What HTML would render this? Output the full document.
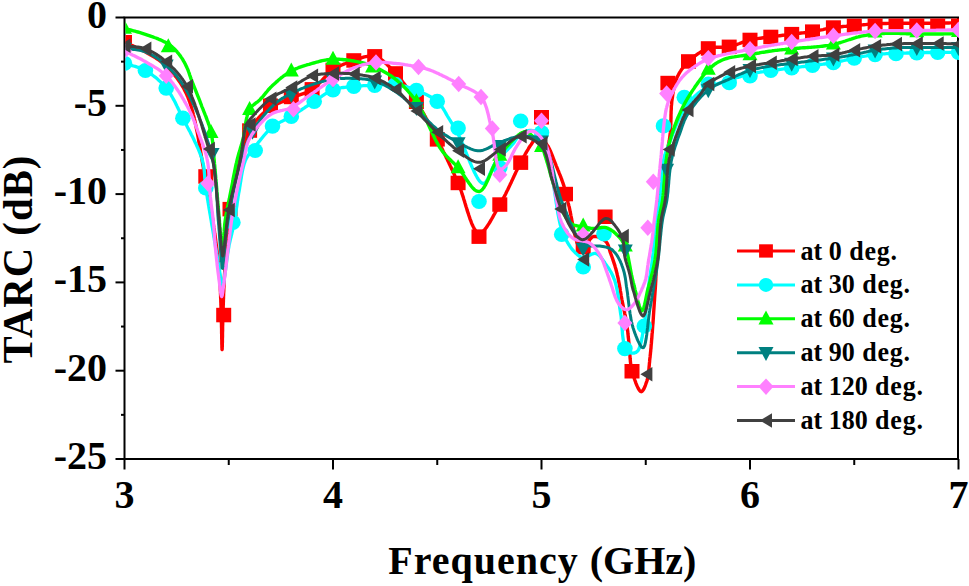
<!DOCTYPE html>
<html><head><meta charset="utf-8"><style>
html,body{margin:0;padding:0;background:#fff;}
body{width:969px;height:586px;overflow:hidden;}
svg{display:block;}
.tk{font-family:"Liberation Serif",serif;font-weight:bold;font-size:40px;fill:#000;}
.ttl{font-family:"Liberation Serif",serif;font-weight:bold;font-size:40px;fill:#000;}
.lg{font-family:"Liberation Serif",serif;font-weight:bold;font-size:26px;fill:#000;}
</style></head><body>
<svg width="969" height="586" viewBox="0 0 969 586">
<defs><clipPath id="pc"><rect x="125.5" y="18.5" width="833.5" height="440"/></clipPath></defs>
<rect x="124.5" y="17.5" width="833.5" height="441.5" fill="none" stroke="#000" stroke-width="2"/>
<line x1="115.5" y1="17.50" x2="124.5" y2="17.50" stroke="#000" stroke-width="2"/>
<line x1="121.0" y1="61.65" x2="124.5" y2="61.65" stroke="#000" stroke-width="2"/>
<line x1="115.5" y1="105.80" x2="124.5" y2="105.80" stroke="#000" stroke-width="2"/>
<line x1="121.0" y1="149.95" x2="124.5" y2="149.95" stroke="#000" stroke-width="2"/>
<line x1="115.5" y1="194.10" x2="124.5" y2="194.10" stroke="#000" stroke-width="2"/>
<line x1="121.0" y1="238.25" x2="124.5" y2="238.25" stroke="#000" stroke-width="2"/>
<line x1="115.5" y1="282.40" x2="124.5" y2="282.40" stroke="#000" stroke-width="2"/>
<line x1="121.0" y1="326.55" x2="124.5" y2="326.55" stroke="#000" stroke-width="2"/>
<line x1="115.5" y1="370.70" x2="124.5" y2="370.70" stroke="#000" stroke-width="2"/>
<line x1="121.0" y1="414.85" x2="124.5" y2="414.85" stroke="#000" stroke-width="2"/>
<line x1="115.5" y1="459.00" x2="124.5" y2="459.00" stroke="#000" stroke-width="2"/>
<line x1="124.50" y1="459.0" x2="124.50" y2="469.5" stroke="#000" stroke-width="2"/>
<line x1="228.75" y1="459.0" x2="228.75" y2="465.0" stroke="#000" stroke-width="2"/>
<line x1="333.00" y1="459.0" x2="333.00" y2="469.5" stroke="#000" stroke-width="2"/>
<line x1="437.25" y1="459.0" x2="437.25" y2="465.0" stroke="#000" stroke-width="2"/>
<line x1="541.50" y1="459.0" x2="541.50" y2="469.5" stroke="#000" stroke-width="2"/>
<line x1="645.75" y1="459.0" x2="645.75" y2="465.0" stroke="#000" stroke-width="2"/>
<line x1="750.00" y1="459.0" x2="750.00" y2="469.5" stroke="#000" stroke-width="2"/>
<line x1="854.25" y1="459.0" x2="854.25" y2="465.0" stroke="#000" stroke-width="2"/>
<line x1="958.50" y1="459.0" x2="958.50" y2="469.5" stroke="#000" stroke-width="2"/>
<g clip-path="url(#pc)">
<polyline points="124.5,42.2 125.9,42.9 127.3,43.5 128.7,44.1 130.1,44.7 131.5,45.3 132.9,45.9 134.3,46.5 135.7,47.2 137.1,47.8 138.5,48.4 139.9,49.1 141.2,49.8 142.6,50.5 144.0,51.2 145.4,51.9 146.7,52.7 148.0,53.4 149.4,54.2 150.7,55.0 152.0,55.7 153.4,56.5 154.7,57.3 156.0,58.2 157.3,59.0 158.6,59.9 159.9,60.8 161.2,61.8 162.5,62.8 163.7,63.8 165.0,64.9 166.2,66.1 167.2,67.0 168.2,68.0 169.2,69.1 170.2,70.1 171.2,71.2 172.1,72.2 173.1,73.3 174.1,74.5 175.0,75.6 176.0,76.8 176.9,78.0 177.8,79.2 178.7,80.5 179.6,81.8 180.5,83.1 181.4,84.5 182.2,85.9 183.1,87.3 183.9,88.8 184.7,90.4 185.5,91.9 186.3,93.5 187.0,95.2 187.5,96.3 188.0,97.4 188.4,98.6 188.9,99.8 189.3,101.0 189.8,102.2 190.2,103.5 190.6,104.8 191.0,106.1 191.4,107.5 191.8,108.9 192.2,110.3 192.6,111.7 193.0,113.1 193.3,114.6 193.7,116.1 194.1,117.6 194.4,119.1 194.8,120.6 195.1,122.2 195.4,123.7 195.8,125.3 196.1,126.9 196.4,128.5 196.7,130.1 197.1,131.7 197.4,133.3 197.7,134.9 198.0,136.5 198.3,138.2 198.6,139.8 198.8,141.4 199.1,143.0 199.4,144.7 199.7,146.3 200.0,147.9 200.3,149.5 200.5,151.1 200.8,152.7 201.1,154.3 201.3,155.9 201.6,157.5 201.9,159.0 202.1,160.6 202.4,162.1 202.6,163.6 202.9,165.1 203.2,166.6 203.4,168.1 203.7,169.5 203.9,171.0 204.2,172.4 204.5,173.7 204.7,175.1 205.0,176.4 205.3,178.1 205.6,179.8 205.9,181.4 206.3,183.0 206.6,184.6 206.9,186.2 207.2,187.8 207.5,189.4 207.8,191.0 208.0,192.5 208.3,194.1 208.6,195.6 208.9,197.1 209.2,198.6 209.4,200.2 209.7,201.7 210.0,203.2 210.2,204.7 210.5,206.1 210.7,207.6 211.0,209.1 211.2,210.6 211.5,212.0 211.7,213.5 211.9,214.9 212.2,216.4 212.4,217.8 212.6,219.3 212.9,220.7 213.1,222.2 213.3,223.6 213.5,225.1 213.7,226.5 213.9,228.0 214.2,229.4 214.4,231.0 214.6,232.6 214.8,234.2 215.1,235.7 215.3,237.3 215.5,238.8 215.7,240.4 215.9,241.9 216.1,243.4 216.3,245.0 216.5,246.5 216.7,248.0 216.9,249.5 217.1,251.1 217.2,252.6 217.4,254.1 217.6,255.6 217.8,257.1 217.9,258.6 218.1,260.1 218.3,261.6 218.4,263.1 218.6,264.6 218.7,266.1 218.8,267.6 219.0,269.1 219.1,270.6 219.2,272.1 219.4,273.6 219.5,275.1 219.6,276.7 219.7,278.3 219.8,279.8 219.9,281.4 220.0,282.9 220.1,284.5 220.2,286.1 220.3,287.6 220.3,289.2 220.4,290.8 220.5,292.3 220.5,293.9 220.6,295.4 220.6,297.0 220.7,298.5 220.8,300.0 220.8,301.6 220.9,303.1 220.9,304.6 221.0,306.1 221.0,307.6 221.0,309.1 221.1,310.6 221.1,312.1 221.2,313.6 221.2,315.1 221.3,316.8 221.4,318.6 221.4,320.5 221.4,322.5 221.5,324.5 221.5,326.6 221.6,328.6 221.6,330.7 221.6,332.8 221.7,334.8 221.7,336.8 221.7,338.7 221.8,340.5 221.8,342.2 221.8,343.8 221.9,345.2 221.9,346.4 221.9,347.5 222.0,348.3 222.0,349.0 222.0,349.4 222.1,349.5 222.1,349.4 222.2,349.0 222.2,348.3 222.2,347.5 222.3,346.4 222.3,345.2 222.3,343.8 222.4,342.2 222.4,340.5 222.4,338.7 222.5,336.8 222.5,334.8 222.5,332.8 222.6,330.7 222.6,328.6 222.6,326.6 222.7,324.5 222.7,322.5 222.8,320.5 222.8,318.6 222.9,316.8 222.9,315.1 223.0,313.6 223.0,312.1 223.1,310.6 223.1,309.1 223.2,307.6 223.2,306.1 223.3,304.6 223.3,303.1 223.4,301.6 223.4,300.0 223.5,298.5 223.5,297.0 223.6,295.4 223.6,293.9 223.7,292.3 223.8,290.8 223.8,289.2 223.9,287.6 224.0,286.1 224.0,284.5 224.1,283.0 224.2,281.4 224.3,279.8 224.3,278.3 224.4,276.7 224.5,275.1 224.6,273.6 224.7,272.1 224.8,270.5 224.8,269.0 224.9,267.4 225.0,265.8 225.1,264.2 225.2,262.6 225.3,261.0 225.4,259.4 225.5,257.8 225.6,256.2 225.8,254.5 225.9,252.9 226.0,251.3 226.1,249.7 226.2,248.1 226.3,246.5 226.4,245.0 226.6,243.4 226.7,241.9 226.8,240.4 226.9,238.9 227.0,237.5 227.1,236.0 227.2,234.7 227.4,233.3 227.5,232.0 227.6,230.7 227.7,229.4 227.9,227.6 228.0,226.0 228.2,224.4 228.3,222.9 228.5,221.4 228.6,220.0 228.8,218.6 228.9,217.2 229.1,215.8 229.3,214.2 229.5,212.6 229.7,210.9 230.0,209.1 230.2,207.9 230.4,206.7 230.5,205.4 230.7,204.1 230.9,202.8 231.1,201.4 231.4,199.9 231.6,198.5 231.8,197.0 232.0,195.5 232.3,193.9 232.5,192.4 232.8,190.8 233.0,189.2 233.3,187.6 233.6,186.0 233.9,184.4 234.1,182.8 234.4,181.1 234.7,179.5 235.0,177.9 235.3,176.3 235.6,174.7 235.9,173.1 236.2,171.6 236.5,170.0 236.8,168.5 237.2,167.0 237.5,165.6 237.8,164.1 238.2,162.7 238.5,161.4 238.8,160.1 239.2,158.8 239.6,157.2 240.1,155.5 240.5,153.9 241.0,152.4 241.5,150.8 242.0,149.3 242.5,147.8 243.0,146.3 243.5,144.8 244.0,143.4 244.5,142.0 245.0,140.6 245.6,139.2 246.1,137.9 246.7,136.6 247.2,135.3 247.8,134.1 248.4,132.9 249.0,131.7 249.6,130.5 250.5,129.0 251.3,127.5 252.2,126.1 253.2,124.7 254.1,123.4 255.1,122.2 256.0,120.9 257.0,119.8 258.0,118.6 259.0,117.5 260.0,116.4 261.1,115.3 262.2,114.2 263.2,113.2 264.3,112.2 265.4,111.2 266.6,110.3 267.8,109.4 269.1,108.5 270.5,107.6 271.6,106.9 272.8,106.2 274.1,105.5 275.4,104.8 276.8,104.1 278.2,103.5 279.6,102.8 281.1,102.2 282.5,101.6 284.0,100.9 285.5,100.3 287.0,99.7 288.4,99.1 289.9,98.5 291.3,97.9 292.7,97.3 294.1,96.7 295.5,96.2 296.9,95.7 298.3,95.3 299.7,94.8 301.1,94.3 302.6,93.8 304.0,93.3 305.4,92.8 306.7,92.2 308.1,91.6 309.5,90.9 310.8,90.2 312.1,89.4 313.4,88.5 314.6,87.6 315.8,86.6 316.9,85.6 318.1,84.5 319.2,83.3 320.3,82.2 321.5,81.0 322.6,79.7 323.7,78.5 324.8,77.3 326.0,76.1 327.1,75.0 328.3,73.8 329.4,72.8 330.6,71.8 331.8,70.8 333.0,70.0 334.3,69.1 335.7,68.3 337.0,67.5 338.4,66.7 339.8,66.0 341.2,65.3 342.5,64.7 343.9,64.1 345.4,63.5 346.8,62.9 348.2,62.4 349.6,61.9 351.0,61.4 352.4,60.9 353.8,60.4 355.3,59.9 356.8,59.4 358.3,58.9 359.8,58.4 361.3,57.9 362.8,57.4 364.4,56.9 365.9,56.6 367.4,56.3 368.9,56.0 370.4,55.9 371.8,55.9 373.3,56.1 374.7,56.4 376.0,56.7 377.3,57.3 378.6,57.9 379.8,58.6 381.1,59.5 382.4,60.4 383.6,61.4 384.8,62.5 386.1,63.6 387.3,64.8 388.5,66.0 389.7,67.2 390.9,68.5 392.1,69.7 393.2,71.0 394.4,72.3 395.5,73.5 396.5,74.5 397.5,75.6 398.4,76.7 399.4,77.8 400.3,78.9 401.3,80.1 402.2,81.2 403.1,82.4 404.0,83.6 404.9,84.8 405.8,86.1 406.7,87.3 407.6,88.6 408.5,89.9 409.4,91.1 410.3,92.4 411.2,93.7 412.1,95.1 412.9,96.4 413.8,97.7 414.7,99.1 415.5,100.4 416.4,101.7 417.2,103.0 418.0,104.2 418.7,105.5 419.5,106.7 420.3,108.0 421.0,109.3 421.8,110.6 422.6,111.9 423.3,113.2 424.1,114.5 424.8,115.9 425.6,117.2 426.3,118.6 427.0,119.9 427.8,121.3 428.5,122.6 429.3,124.0 430.0,125.4 430.7,126.8 431.4,128.2 432.2,129.6 432.9,130.9 433.6,132.3 434.4,133.7 435.1,135.1 435.8,136.5 436.5,137.9 437.2,139.4 437.9,140.7 438.6,142.0 439.3,143.3 439.9,144.6 440.6,145.9 441.3,147.2 441.9,148.6 442.6,149.9 443.2,151.2 443.9,152.6 444.6,153.9 445.2,155.3 445.9,156.6 446.5,158.0 447.2,159.3 447.8,160.7 448.5,162.1 449.1,163.4 449.8,164.8 450.4,166.2 451.1,167.6 451.7,169.0 452.4,170.3 453.0,171.7 453.6,173.1 454.3,174.5 454.9,175.9 455.6,177.3 456.2,178.7 456.8,180.1 457.5,181.6 458.1,183.0 458.7,184.3 459.3,185.8 459.9,187.3 460.4,188.9 461.0,190.5 461.6,192.2 462.1,193.9 462.7,195.6 463.3,197.4 463.8,199.2 464.4,201.0 464.9,202.8 465.5,204.7 466.0,206.5 466.6,208.3 467.1,210.1 467.7,211.9 468.3,213.6 468.8,215.3 469.4,217.0 469.9,218.6 470.5,220.2 471.1,221.7 471.6,223.1 472.2,224.5 472.8,225.8 473.4,227.0 474.0,228.1 474.6,229.1 475.2,230.0 475.8,230.8 476.4,231.5 477.0,232.1 477.7,232.5 478.3,232.8 479.0,233.0 479.8,232.9 480.6,232.7 481.5,232.3 482.4,231.7 483.3,231.0 484.2,230.1 485.1,229.1 486.0,227.9 487.0,226.6 487.9,225.2 488.8,223.8 489.8,222.3 490.7,220.7 491.7,219.0 492.6,217.4 493.5,215.7 494.5,214.0 495.4,212.3 496.3,210.7 497.2,209.0 498.1,207.5 498.9,206.0 499.8,204.5 500.5,203.3 501.3,202.1 502.0,200.8 502.7,199.5 503.4,198.1 504.1,196.8 504.9,195.4 505.6,194.0 506.3,192.5 507.0,191.1 507.7,189.7 508.4,188.2 509.1,186.7 509.8,185.3 510.5,183.8 511.2,182.4 511.8,180.9 512.5,179.5 513.2,178.0 513.9,176.6 514.5,175.2 515.2,173.8 515.8,172.4 516.4,171.1 517.1,169.8 517.7,168.5 518.3,167.3 518.9,166.1 519.5,164.9 520.1,163.8 520.7,162.7 521.5,161.0 522.4,159.4 523.3,157.8 524.1,156.2 524.9,154.8 525.7,153.3 526.5,151.9 527.3,150.6 528.1,149.3 528.8,148.0 529.6,146.8 530.3,145.7 531.1,144.7 532.1,143.1 533.2,141.6 534.2,140.1 535.2,138.9 536.3,138.0 537.3,137.6 539.1,137.9 540.8,138.9 542.5,140.2 543.6,141.1 544.7,142.1 545.7,143.2 546.7,144.4 547.8,145.9 548.4,146.9 549.0,148.1 549.6,149.4 550.3,150.7 550.9,152.1 551.5,153.6 552.1,155.2 552.7,156.7 553.3,158.3 553.9,159.9 554.5,161.4 555.1,162.9 555.7,164.4 556.2,165.8 556.8,167.2 557.4,168.6 558.0,170.1 558.6,171.5 559.1,172.9 559.7,174.3 560.3,175.7 560.8,177.2 561.4,178.6 561.9,180.1 562.4,181.5 562.9,182.9 563.4,184.4 563.9,185.9 564.3,187.4 564.7,188.9 565.1,190.3 565.5,191.8 565.8,193.3 566.2,194.8 566.5,196.3 566.9,197.9 567.3,199.5 567.7,201.1 568.1,202.9 568.6,204.7 568.9,205.9 569.3,207.3 569.6,208.8 569.9,210.3 570.2,212.0 570.6,213.7 570.9,215.5 571.3,217.3 571.6,219.2 572.0,221.1 572.4,223.0 572.7,224.9 573.1,226.9 573.5,228.8 573.9,230.7 574.3,232.5 574.7,234.3 575.2,236.1 575.6,237.8 576.0,239.4 576.5,240.9 576.9,242.3 577.4,243.6 577.9,244.8 578.4,245.9 578.9,246.8 579.5,247.6 580.0,248.2 580.5,248.6 581.1,248.8 582.1,248.8 583.1,248.2 584.2,247.1 585.3,245.8 586.5,244.2 587.6,242.5 588.8,240.8 590.0,239.3 591.2,238.0 592.4,237.0 593.6,236.5 595.0,236.4 596.5,236.5 598.0,236.9 599.5,237.4 601.1,238.1 602.5,239.0 603.9,239.9 605.1,240.8 606.1,241.8 607.1,243.0 607.8,244.4 608.4,245.9 608.9,247.5 609.3,249.1 609.8,250.7 610.3,252.4 610.8,253.8 611.3,255.2 611.9,256.7 612.4,258.1 612.9,259.6 613.4,261.1 613.9,262.6 614.4,264.1 614.9,265.6 615.3,267.2 615.8,268.7 616.2,270.2 616.6,271.8 617.0,273.4 617.3,274.9 617.7,276.6 618.1,278.2 618.4,279.9 618.7,281.4 619.0,282.8 619.3,284.3 619.6,285.8 619.8,287.4 620.1,288.9 620.3,290.5 620.6,292.1 620.9,293.7 621.1,295.3 621.4,296.9 621.7,298.5 622.0,300.1 622.3,301.5 622.6,303.1 622.9,304.6 623.2,306.1 623.5,307.6 623.9,309.2 624.2,310.7 624.5,312.3 624.8,313.8 625.2,315.4 625.5,316.9 625.8,318.5 626.1,320.0 626.3,321.5 626.6,323.0 626.8,324.5 627.0,326.1 627.2,327.6 627.4,329.1 627.6,330.5 627.8,332.0 627.9,333.5 628.1,335.0 628.2,336.5 628.4,338.0 628.6,339.5 628.7,341.1 628.9,342.6 629.1,344.2 629.2,345.7 629.4,347.2 629.5,348.8 629.6,350.3 629.7,351.9 629.8,353.5 629.9,355.1 630.0,356.7 630.1,358.3 630.3,359.9 630.4,361.5 630.6,363.1 630.8,364.7 631.0,366.2 631.3,367.7 631.6,369.2 632.0,370.7 632.4,372.3 632.9,374.0 633.5,375.8 634.0,377.6 634.6,379.5 635.3,381.3 635.9,383.1 636.6,384.8 637.3,386.4 638.0,387.9 638.7,389.2 639.3,390.2 640.0,391.0 640.6,391.5 641.2,391.7 642.0,391.4 642.9,390.4 643.8,389.0 644.6,387.2 645.4,385.3 646.1,383.2 646.8,381.3 647.2,380.1 647.5,378.8 647.8,377.4 648.0,376.0 648.3,374.5 648.5,373.0 648.7,371.5 648.8,369.9 649.0,368.3 649.1,366.7 649.3,365.0 649.4,363.4 649.6,361.7 649.7,360.0 649.9,358.3 650.1,356.9 650.2,355.5 650.4,354.0 650.5,352.6 650.7,351.0 650.8,349.5 651.0,348.0 651.1,346.4 651.2,344.8 651.4,343.2 651.5,341.6 651.6,340.1 651.8,338.5 651.9,336.9 652.0,335.3 652.1,333.7 652.3,332.2 652.4,330.7 652.5,329.2 652.6,327.7 652.7,326.2 652.8,324.8 653.0,323.1 653.1,321.5 653.2,319.9 653.3,318.3 653.4,316.7 653.5,315.1 653.6,313.6 653.7,312.0 653.8,310.5 653.9,309.0 654.0,307.5 654.1,306.0 654.2,304.5 654.3,303.0 654.4,301.5 654.5,300.1 654.6,298.5 654.7,297.0 654.8,295.5 654.9,294.1 655.0,292.7 655.1,291.2 655.2,289.8 655.3,288.4 655.4,286.8 655.5,285.3 655.6,283.6 655.7,281.8 655.8,279.9 655.8,278.8 655.9,277.6 655.9,276.4 656.0,275.1 656.0,273.8 656.1,272.5 656.1,271.1 656.2,269.7 656.2,268.3 656.3,266.8 656.3,265.3 656.4,263.8 656.4,262.3 656.5,260.8 656.5,259.2 656.6,257.6 656.6,256.0 656.7,254.4 656.8,252.8 656.8,251.1 656.9,249.5 656.9,247.8 657.0,246.2 657.0,244.5 657.1,242.9 657.2,241.2 657.2,239.5 657.3,237.9 657.4,236.3 657.5,234.6 657.5,233.0 657.6,231.4 657.7,229.8 657.8,228.2 657.9,226.6 658.0,225.1 658.1,223.6 658.2,222.1 658.3,220.6 658.4,219.0 658.5,217.5 658.6,215.9 658.7,214.3 658.9,212.7 659.0,211.2 659.1,209.6 659.2,208.0 659.4,206.5 659.5,204.9 659.6,203.3 659.8,201.8 659.9,200.2 660.1,198.7 660.2,197.1 660.4,195.6 660.5,194.0 660.7,192.5 660.8,191.0 661.0,189.5 661.1,188.0 661.3,186.5 661.5,185.0 661.6,183.5 661.8,182.0 662.0,180.6 662.2,179.1 662.3,177.7 662.5,176.3 662.7,174.9 662.9,173.5 663.1,172.1 663.3,170.7 663.5,169.4 663.7,167.7 664.0,166.1 664.3,164.4 664.6,162.8 664.9,161.3 665.2,159.7 665.5,158.2 665.9,156.7 666.2,155.2 666.5,153.7 666.9,152.2 667.2,150.8 667.5,149.3 667.8,147.8 668.1,146.3 668.4,144.9 668.7,143.4 669.0,141.9 669.3,140.4 669.5,138.9 669.7,137.4 669.9,135.8 670.1,134.3 670.3,132.7 670.4,131.2 670.5,129.6 670.6,128.0 670.7,126.4 670.8,124.7 670.8,123.1 670.9,121.5 670.9,119.9 671.0,118.3 671.0,116.6 671.0,115.0 671.1,113.4 671.1,111.9 671.2,110.3 671.3,108.7 671.3,107.2 671.4,105.7 671.6,104.2 671.7,102.8 671.8,101.4 672.0,100.0 672.3,98.3 672.5,96.7 672.7,95.0 672.9,93.5 673.2,91.9 673.4,90.3 673.7,88.8 674.0,87.3 674.3,85.9 674.7,84.4 675.1,83.0 675.5,81.6 676.0,80.2 676.5,78.9 677.0,77.5 677.7,76.1 678.4,74.8 679.1,73.4 679.9,72.1 680.7,70.9 681.5,69.6 682.4,68.4 683.3,67.2 684.3,66.0 685.3,64.8 686.3,63.7 687.4,62.6 688.5,61.5 689.6,60.4 690.7,59.4 691.9,58.4 693.2,57.3 694.4,56.3 695.8,55.3 697.1,54.4 698.5,53.4 699.8,52.6 701.2,51.7 702.6,50.9 704.1,50.2 705.5,49.5 706.9,48.9 708.3,48.4 709.8,48.0 711.4,47.6 713.0,47.4 714.6,47.3 716.2,47.3 717.8,47.3 719.4,47.3 721.1,47.3 722.7,47.3 724.3,47.3 725.9,47.2 727.6,47.1 729.2,46.8 730.7,46.5 732.2,46.1 733.6,45.6 735.1,45.1 736.6,44.6 738.1,44.0 739.6,43.5 741.1,42.9 742.5,42.3 744.0,41.8 745.5,41.2 747.0,40.8 748.5,40.3 750.0,39.9 751.5,39.6 753.0,39.3 754.4,39.0 755.9,38.8 757.4,38.6 758.9,38.4 760.4,38.2 761.9,38.0 763.4,37.8 764.9,37.7 766.4,37.5 767.9,37.3 769.4,37.1 770.8,36.9 772.3,36.7 773.8,36.5 775.3,36.3 776.8,36.1 778.3,35.9 779.8,35.7 781.3,35.5 782.8,35.3 784.3,35.1 785.7,34.9 787.2,34.7 788.7,34.5 790.2,34.3 791.7,34.1 793.3,33.9 794.9,33.7 796.5,33.5 798.1,33.4 799.7,33.2 801.3,33.0 802.9,32.9 804.5,32.7 806.1,32.5 807.7,32.3 809.3,32.1 811.0,31.9 812.5,31.6 814.0,31.4 815.5,31.1 817.0,30.8 818.5,30.5 820.0,30.2 821.5,29.9 823.0,29.6 824.5,29.2 825.9,28.9 827.4,28.6 828.9,28.3 830.4,28.0 831.9,27.8 833.4,27.6 835.0,27.3 836.6,27.2 838.2,27.0 839.8,26.8 841.4,26.7 843.0,26.5 844.6,26.4 846.2,26.3 847.8,26.1 849.4,26.0 851.0,25.9 852.6,25.8 854.2,25.6 855.9,25.5 857.5,25.3 859.1,25.2 860.7,25.0 862.3,24.9 863.9,24.7 865.5,24.6 867.1,24.4 868.7,24.3 870.3,24.2 871.9,24.1 873.5,24.0 875.1,23.9 876.7,23.8 878.3,23.7 879.9,23.6 881.5,23.6 883.1,23.5 884.7,23.5 886.3,23.5 887.9,23.4 889.5,23.4 891.1,23.4 892.7,23.4 894.3,23.3 896.0,23.3 897.6,23.3 899.2,23.3 900.8,23.3 902.4,23.3 904.0,23.3 905.6,23.3 907.2,23.3 908.8,23.3 910.4,23.3 912.0,23.3 913.6,23.3 915.2,23.3 916.8,23.3 918.4,23.3 920.0,23.3 921.6,23.3 923.2,23.3 924.8,23.3 926.4,23.3 928.0,23.3 929.6,23.2 931.2,23.2 932.8,23.2 934.4,23.2 936.0,23.2 937.7,23.2 939.3,23.1 940.9,23.1 942.5,23.1 944.1,23.1 945.7,23.0 947.3,23.0 948.9,23.0 950.5,22.9 952.1,22.9 953.7,22.9 955.3,22.9 956.9,22.8 958.5,22.8" fill="none" stroke="#ff0000" stroke-width="3.4" stroke-linejoin="round"/>
<rect x="117.0" y="35.0" width="15.0" height="14.5" fill="#ff0000"/>
<rect x="198.3" y="169.2" width="15.0" height="14.5" fill="#ff0000"/>
<rect x="216.2" y="307.8" width="15.0" height="14.5" fill="#ff0000"/>
<rect x="222.5" y="201.9" width="15.0" height="14.5" fill="#ff0000"/>
<rect x="242.1" y="123.3" width="15.0" height="14.5" fill="#ff0000"/>
<rect x="263.0" y="98.5" width="15.0" height="14.5" fill="#ff0000"/>
<rect x="283.8" y="89.7" width="15.0" height="14.5" fill="#ff0000"/>
<rect x="304.6" y="82.1" width="15.0" height="14.5" fill="#ff0000"/>
<rect x="325.5" y="62.7" width="15.0" height="14.5" fill="#ff0000"/>
<rect x="346.3" y="53.2" width="15.0" height="14.5" fill="#ff0000"/>
<rect x="367.2" y="49.1" width="15.0" height="14.5" fill="#ff0000"/>
<rect x="388.0" y="66.2" width="15.0" height="14.5" fill="#ff0000"/>
<rect x="408.9" y="94.5" width="15.0" height="14.5" fill="#ff0000"/>
<rect x="429.8" y="132.1" width="15.0" height="14.5" fill="#ff0000"/>
<rect x="450.6" y="175.7" width="15.0" height="14.5" fill="#ff0000"/>
<rect x="471.5" y="229.4" width="15.0" height="14.5" fill="#ff0000"/>
<rect x="492.3" y="197.3" width="15.0" height="14.5" fill="#ff0000"/>
<rect x="513.2" y="155.4" width="15.0" height="14.5" fill="#ff0000"/>
<rect x="534.0" y="110.0" width="15.0" height="14.5" fill="#ff0000"/>
<rect x="558.0" y="186.8" width="15.0" height="14.5" fill="#ff0000"/>
<rect x="575.7" y="239.8" width="15.0" height="14.5" fill="#ff0000"/>
<rect x="597.6" y="209.5" width="15.0" height="14.5" fill="#ff0000"/>
<rect x="624.5" y="364.0" width="15.0" height="14.5" fill="#ff0000"/>
<rect x="660.4" y="75.8" width="15.0" height="14.5" fill="#ff0000"/>
<rect x="681.0" y="54.2" width="15.0" height="14.5" fill="#ff0000"/>
<rect x="700.8" y="41.2" width="15.0" height="14.5" fill="#ff0000"/>
<rect x="721.7" y="39.6" width="15.0" height="14.5" fill="#ff0000"/>
<rect x="742.5" y="32.7" width="15.0" height="14.5" fill="#ff0000"/>
<rect x="763.3" y="29.7" width="15.0" height="14.5" fill="#ff0000"/>
<rect x="784.2" y="26.9" width="15.0" height="14.5" fill="#ff0000"/>
<rect x="805.0" y="24.4" width="15.0" height="14.5" fill="#ff0000"/>
<rect x="825.9" y="20.3" width="15.0" height="14.5" fill="#ff0000"/>
<rect x="846.8" y="18.4" width="15.0" height="14.5" fill="#ff0000"/>
<rect x="867.6" y="16.6" width="15.0" height="14.5" fill="#ff0000"/>
<rect x="888.5" y="16.1" width="15.0" height="14.5" fill="#ff0000"/>
<rect x="909.3" y="16.1" width="15.0" height="14.5" fill="#ff0000"/>
<rect x="930.2" y="15.9" width="15.0" height="14.5" fill="#ff0000"/>
<rect x="951.0" y="15.5" width="15.0" height="14.5" fill="#ff0000"/>
<polyline points="124.5,63.4 126.0,63.9 127.5,64.4 129.0,64.8 130.5,65.2 132.0,65.6 133.5,66.0 135.1,66.4 136.6,66.9 138.1,67.3 139.5,67.9 141.0,68.4 142.5,69.0 143.9,69.7 145.4,70.5 146.6,71.2 147.8,71.9 149.0,72.7 150.3,73.5 151.5,74.4 152.7,75.3 153.9,76.2 155.1,77.1 156.3,78.1 157.5,79.1 158.6,80.2 159.8,81.2 160.9,82.3 162.0,83.4 163.1,84.6 164.1,85.7 165.2,86.9 166.2,88.1 167.1,89.3 168.0,90.4 168.8,91.6 169.7,92.9 170.5,94.1 171.3,95.4 172.0,96.7 172.8,98.0 173.5,99.4 174.3,100.7 175.0,102.1 175.7,103.5 176.4,104.9 177.1,106.4 177.8,107.8 178.5,109.3 179.2,110.7 179.9,112.2 180.7,113.7 181.4,115.2 182.1,116.7 182.9,118.2 183.5,119.4 184.2,120.7 184.9,122.1 185.6,123.4 186.3,124.8 187.0,126.2 187.7,127.6 188.5,129.0 189.2,130.4 190.0,131.8 190.7,133.2 191.4,134.7 192.2,136.1 192.9,137.6 193.6,139.0 194.3,140.5 195.0,142.0 195.7,143.4 196.4,144.9 197.0,146.3 197.7,147.7 198.3,149.2 198.9,150.6 199.5,152.0 200.0,153.4 200.5,154.7 201.0,156.1 201.5,157.4 201.9,158.7 202.3,160.0 202.7,161.7 203.1,163.3 203.4,164.8 203.7,166.3 203.9,167.8 204.1,169.3 204.3,170.8 204.4,172.3 204.5,173.7 204.6,175.2 204.7,176.7 204.8,178.2 205.0,179.7 205.1,181.3 205.2,182.9 205.4,184.5 205.6,186.2 205.8,187.9 206.0,189.2 206.2,190.5 206.4,191.9 206.6,193.2 206.8,194.6 207.1,196.0 207.3,197.5 207.5,198.9 207.8,200.4 208.0,201.9 208.3,203.4 208.5,205.0 208.8,206.5 209.0,208.0 209.3,209.6 209.6,211.2 209.8,212.7 210.1,214.3 210.4,215.9 210.6,217.4 210.9,219.0 211.2,220.6 211.4,222.1 211.7,223.7 211.9,225.2 212.2,226.7 212.5,228.2 212.7,229.7 213.0,231.2 213.2,232.6 213.5,234.1 213.7,235.5 213.9,236.9 214.2,238.2 214.4,239.9 214.7,241.6 215.0,243.3 215.3,245.0 215.5,246.6 215.8,248.3 216.1,250.0 216.4,251.6 216.6,253.3 216.9,254.9 217.2,256.5 217.4,258.1 217.7,259.7 217.9,261.2 218.2,262.7 218.4,264.2 218.7,265.6 218.9,267.1 219.1,268.5 219.4,269.8 219.6,271.1 219.8,272.4 220.0,273.6 220.3,275.6 220.6,277.7 220.9,279.8 221.2,281.8 221.4,283.7 221.7,285.3 222.0,286.6 222.2,287.4 222.5,287.7 222.8,287.4 223.0,286.5 223.3,285.2 223.6,283.6 223.9,281.7 224.1,279.7 224.4,277.6 224.7,275.5 225.0,273.6 225.2,272.2 225.4,270.8 225.6,269.4 225.8,267.9 226.0,266.3 226.2,264.8 226.4,263.2 226.6,261.6 226.8,259.9 227.0,258.3 227.3,256.7 227.5,255.0 227.7,253.4 228.0,251.8 228.2,250.2 228.5,248.6 228.8,247.1 229.0,245.5 229.3,244.0 229.7,242.5 230.0,241.1 230.3,239.6 230.7,238.1 231.1,236.7 231.4,235.2 231.8,233.8 232.1,232.3 232.5,230.8 232.8,229.3 233.2,227.8 233.5,226.2 233.9,224.7 234.2,223.1 234.4,221.6 234.7,220.2 234.9,218.7 235.2,217.2 235.4,215.7 235.7,214.1 235.9,212.6 236.1,211.0 236.3,209.4 236.5,207.9 236.8,206.3 237.0,204.7 237.2,203.1 237.4,201.5 237.7,199.9 237.9,198.3 238.1,196.8 238.4,195.2 238.6,193.6 238.9,192.1 239.2,190.6 239.5,189.0 239.7,187.4 240.0,185.8 240.2,184.2 240.5,182.5 240.8,180.9 241.0,179.2 241.3,177.6 241.5,176.0 241.8,174.4 242.1,172.8 242.4,171.2 242.7,169.6 243.1,168.1 243.4,166.7 243.8,165.2 244.2,163.8 244.7,162.5 245.1,161.2 245.6,160.0 246.3,158.5 247.1,157.1 247.9,155.8 248.7,154.6 249.5,153.4 250.4,152.3 251.3,151.2 252.2,150.1 253.2,148.9 254.2,147.7 255.2,146.4 256.1,145.3 257.0,144.2 257.9,143.0 258.8,141.9 259.8,140.7 260.8,139.4 261.8,138.2 262.8,137.0 263.8,135.8 264.9,134.5 265.9,133.4 267.0,132.2 268.1,131.1 269.2,130.0 270.3,128.9 271.4,127.9 272.5,127.0 273.8,126.0 275.1,125.1 276.3,124.3 277.6,123.5 279.0,122.8 280.3,122.1 281.6,121.4 283.0,120.8 284.4,120.1 285.7,119.4 287.1,118.7 288.5,118.0 289.9,117.2 291.3,116.4 292.5,115.6 293.8,114.9 295.0,114.1 296.3,113.2 297.6,112.4 298.9,111.5 300.2,110.7 301.5,109.8 302.8,108.9 304.1,108.1 305.4,107.2 306.7,106.3 308.0,105.5 309.2,104.6 310.5,103.8 311.8,103.0 313.0,102.2 314.2,101.4 315.6,100.5 317.0,99.6 318.3,98.7 319.6,97.7 321.0,96.8 322.3,95.9 323.6,95.0 324.9,94.2 326.2,93.3 327.5,92.6 328.8,91.8 330.2,91.1 331.6,90.5 333.0,89.9 334.4,89.4 335.9,89.0 337.3,88.6 338.8,88.3 340.3,88.0 341.8,87.7 343.3,87.5 344.8,87.3 346.3,87.1 347.8,87.0 349.3,86.8 350.8,86.7 352.4,86.5 353.8,86.4 355.4,86.2 357.1,86.1 358.7,86.0 360.3,85.9 361.9,85.8 363.5,85.7 365.1,85.7 366.7,85.6 368.3,85.6 369.9,85.5 371.5,85.5 373.1,85.4 374.7,85.3 376.3,85.2 377.9,85.1 379.5,84.9 381.1,84.8 382.7,84.6 384.3,84.4 386.0,84.3 387.6,84.1 389.2,84.1 390.8,84.0 392.4,84.0 394.0,84.1 395.5,84.3 397.1,84.5 398.6,84.7 400.1,85.0 401.6,85.4 403.1,85.7 404.6,86.2 406.1,86.6 407.5,87.1 409.0,87.6 410.5,88.1 412.0,88.7 413.5,89.3 414.9,89.8 416.4,90.4 417.8,91.0 419.3,91.6 420.8,92.2 422.2,92.8 423.7,93.4 425.2,94.1 426.7,94.8 428.1,95.5 429.5,96.2 430.9,97.0 432.3,97.8 433.6,98.6 434.9,99.5 436.1,100.4 437.2,101.4 438.4,102.5 439.5,103.6 440.5,104.9 441.5,106.2 442.4,107.5 443.3,108.9 444.2,110.3 445.0,111.7 445.8,113.1 446.6,114.6 447.4,116.0 448.2,117.3 449.0,118.7 449.8,119.9 450.7,121.4 451.5,122.7 452.3,124.0 453.1,125.3 453.8,126.5 454.6,127.8 455.4,129.2 456.2,130.7 457.1,132.3 458.1,134.1 458.6,135.1 459.2,136.2 459.8,137.4 460.4,138.8 461.0,140.2 461.6,141.7 462.3,143.2 463.0,144.9 463.6,146.6 464.3,148.3 465.1,150.1 465.8,151.9 466.5,153.7 467.3,155.6 468.0,157.4 468.8,159.3 469.5,161.1 470.3,163.0 471.1,164.8 471.8,166.5 472.6,168.3 473.4,170.0 474.1,171.6 474.9,173.1 475.6,174.6 476.4,176.0 477.1,177.3 477.8,178.5 478.5,179.6 479.2,180.6 479.9,181.4 480.6,182.1 481.3,182.7 481.9,183.1 482.5,183.4 483.1,183.5 484.0,183.4 484.8,182.9 485.6,182.2 486.4,181.2 487.1,180.0 487.9,178.6 488.6,177.0 489.3,175.4 490.0,173.7 490.8,171.9 491.5,170.1 492.3,168.4 493.1,166.7 493.9,165.1 494.7,163.6 495.6,162.3 496.6,161.1 497.6,159.9 498.6,158.7 499.6,157.6 500.7,156.4 501.9,155.3 503.0,154.1 504.1,153.0 505.2,151.9 506.3,150.8 507.4,149.8 508.5,148.7 509.5,147.7 510.5,146.6 511.4,145.6 512.3,144.7 513.5,143.2 514.6,141.7 515.5,140.2 516.5,138.8 517.4,137.4 518.4,136.2 519.5,135.0 520.7,134.1 522.0,133.2 523.4,132.4 524.9,131.7 526.5,131.1 528.0,130.7 529.6,130.5 531.1,130.5 532.6,130.7 534.2,131.1 535.7,131.6 537.3,132.3 538.8,133.2 540.2,134.4 541.5,135.8 542.1,136.6 542.7,137.5 543.2,138.5 543.7,139.6 544.2,140.8 544.7,142.0 545.1,143.4 545.5,144.7 545.9,146.2 546.3,147.7 546.7,149.2 547.1,150.8 547.4,152.4 547.7,154.1 548.1,155.8 548.4,157.5 548.7,159.2 549.0,161.0 549.3,162.7 549.6,164.5 550.0,166.3 550.3,168.0 550.6,169.7 550.9,171.5 551.2,173.1 551.6,174.8 551.9,176.4 552.2,177.9 552.5,179.3 552.8,180.8 553.1,182.3 553.4,183.8 553.6,185.4 553.9,187.0 554.1,188.6 554.4,190.2 554.6,191.8 554.9,193.4 555.1,195.1 555.4,196.7 555.6,198.4 555.8,200.0 556.1,201.6 556.3,203.3 556.6,204.9 556.8,206.5 557.1,208.2 557.3,209.8 557.6,211.3 557.8,212.9 558.1,214.4 558.4,216.0 558.7,217.5 559.0,218.9 559.3,220.4 559.6,221.8 559.9,223.2 560.2,224.5 560.6,225.8 561.0,227.0 561.3,228.3 561.7,229.4 562.3,231.2 563.0,232.8 563.6,234.5 564.3,236.1 565.0,237.6 565.7,239.1 566.4,240.5 567.2,241.9 567.9,243.2 568.7,244.5 569.5,245.7 570.3,246.9 571.1,248.0 571.9,249.1 572.8,250.1 574.0,251.4 575.2,252.7 576.5,253.9 577.7,255.0 579.1,256.0 580.4,256.8 581.8,257.3 583.2,257.7 584.7,257.6 586.3,257.1 587.9,256.3 589.5,255.4 591.1,254.5 592.7,253.8 594.3,253.4 595.7,253.4 596.9,253.9 598.0,254.6 599.2,255.5 600.2,256.6 601.3,257.9 602.3,259.2 603.3,260.6 604.3,262.0 605.2,263.4 606.1,264.7 607.0,266.0 607.9,267.2 608.7,268.4 609.5,269.7 610.3,271.0 611.1,272.3 611.8,273.7 612.5,275.2 613.2,276.7 613.8,278.3 614.5,279.9 614.9,281.1 615.3,282.4 615.6,283.7 616.0,285.0 616.3,286.4 616.6,287.8 616.9,289.3 617.2,290.8 617.5,292.3 617.8,293.8 618.0,295.4 618.3,297.0 618.5,298.6 618.7,300.2 619.0,301.8 619.2,303.4 619.4,305.0 619.6,306.5 619.8,308.1 620.1,309.7 620.3,311.2 620.5,312.7 620.7,314.2 621.0,315.8 621.2,317.4 621.3,319.0 621.5,320.7 621.6,322.4 621.8,324.1 621.9,325.8 622.0,327.5 622.1,329.2 622.3,330.8 622.4,332.5 622.5,334.1 622.7,335.7 622.9,337.2 623.1,338.7 623.3,340.1 623.5,341.5 623.8,342.7 624.1,343.9 624.5,345.0 624.9,346.0 625.8,347.7 626.7,349.2 627.8,350.6 628.9,351.7 630.0,352.5 631.2,353.0 632.7,353.2 634.4,353.0 636.0,352.4 637.4,351.3 638.1,350.5 638.6,349.5 639.2,348.4 639.7,347.1 640.1,345.7 640.6,344.2 641.0,342.6 641.4,340.9 641.7,339.2 642.1,337.4 642.4,335.5 642.7,333.7 643.0,331.9 643.3,330.1 643.7,328.3 643.9,326.9 644.2,325.5 644.4,324.1 644.6,322.6 644.8,321.1 645.0,319.6 645.2,318.1 645.3,316.5 645.5,314.9 645.7,313.4 645.8,311.8 646.0,310.2 646.1,308.5 646.3,306.9 646.4,305.3 646.5,303.7 646.7,302.1 646.8,300.5 647.0,298.9 647.1,297.3 647.3,295.8 647.5,294.2 647.7,292.7 647.8,291.2 648.0,289.7 648.2,288.2 648.4,286.7 648.7,285.2 648.9,283.7 649.1,282.2 649.3,280.8 649.5,279.3 649.7,277.8 650.0,276.4 650.2,274.9 650.4,273.5 650.6,272.0 650.8,270.6 651.0,269.1 651.3,267.6 651.5,266.1 651.7,264.6 651.9,263.1 652.1,261.5 652.3,260.0 652.5,258.5 652.7,257.0 652.8,255.5 653.0,254.0 653.2,252.4 653.3,250.8 653.5,249.2 653.7,247.6 653.8,246.0 654.0,244.4 654.1,242.7 654.3,241.1 654.5,239.5 654.6,237.9 654.8,236.2 654.9,234.6 655.1,233.1 655.3,231.5 655.4,230.0 655.6,228.4 655.8,227.0 655.9,225.5 656.1,224.1 656.3,222.7 656.4,221.4 656.6,220.1 656.8,218.3 657.1,216.7 657.4,215.1 657.6,213.6 657.9,212.1 658.1,210.7 658.4,209.3 658.7,207.9 658.9,206.4 659.2,204.9 659.4,203.3 659.7,201.7 659.9,199.9 660.1,198.6 660.2,197.3 660.3,195.9 660.5,194.4 660.6,192.9 660.7,191.4 660.8,189.8 660.9,188.2 661.0,186.6 661.1,184.9 661.2,183.3 661.3,181.6 661.4,180.0 661.5,178.3 661.6,176.6 661.7,175.0 661.9,173.4 662.0,171.7 662.1,170.1 662.3,168.6 662.5,167.0 662.7,165.5 662.9,164.1 663.1,162.7 663.3,161.3 663.6,160.0 664.0,158.3 664.4,156.7 664.9,155.1 665.3,153.6 665.8,152.1 666.3,150.6 666.9,149.2 667.4,147.8 668.0,146.4 668.5,145.0 669.1,143.6 669.7,142.2 670.2,140.8 670.8,139.4 671.3,137.9 671.9,136.4 672.5,134.9 673.0,133.4 673.6,131.9 674.2,130.4 674.8,128.9 675.4,127.4 676.0,126.0 676.6,124.5 677.2,123.1 677.8,121.7 678.5,120.4 679.1,119.0 679.9,117.5 680.7,116.0 681.5,114.5 682.3,113.1 683.1,111.6 683.9,110.2 684.7,108.9 685.6,107.5 686.5,106.2 687.5,104.9 688.4,103.7 689.4,102.4 690.4,101.2 691.4,99.9 692.4,98.7 693.5,97.6 694.6,96.5 695.7,95.4 696.8,94.4 697.9,93.4 699.1,92.5 700.3,91.6 701.5,90.8 702.7,90.1 704.0,89.4 705.4,88.7 706.8,88.0 708.3,87.3 709.5,86.7 710.9,86.2 712.2,85.6 713.7,85.1 715.2,84.6 716.7,84.1 718.2,83.6 719.8,83.1 721.4,82.6 723.0,82.1 724.5,81.6 726.1,81.1 727.6,80.7 729.2,80.2 730.6,79.7 732.1,79.2 733.6,78.8 735.1,78.3 736.6,77.8 738.1,77.3 739.5,76.9 741.0,76.4 742.5,76.0 744.0,75.6 745.5,75.1 747.0,74.8 748.5,74.4 750.0,74.0 751.5,73.7 753.0,73.4 754.4,73.1 755.9,72.8 757.4,72.5 758.9,72.3 760.4,72.0 761.9,71.8 763.4,71.6 764.9,71.3 766.4,71.1 767.9,70.9 769.4,70.7 770.8,70.5 772.5,70.3 774.1,70.0 775.7,69.8 777.3,69.6 778.9,69.5 780.5,69.3 782.1,69.1 783.7,68.9 785.3,68.7 786.9,68.6 788.5,68.4 790.1,68.2 791.7,68.0 793.2,67.8 794.7,67.6 796.2,67.5 797.7,67.3 799.1,67.1 800.6,66.9 802.1,66.7 803.6,66.5 805.1,66.3 806.6,66.1 808.1,65.9 809.6,65.7 811.1,65.5 812.5,65.4 814.0,65.2 815.5,65.0 817.0,64.8 818.5,64.7 820.0,64.5 821.5,64.3 823.0,64.2 824.5,64.0 826.0,63.8 827.5,63.6 828.9,63.4 830.4,63.2 831.9,63.0 833.4,62.7 834.9,62.4 836.4,62.1 837.9,61.8 839.4,61.5 840.9,61.2 842.3,60.8 843.8,60.5 845.3,60.1 846.8,59.8 848.3,59.4 849.8,59.1 851.3,58.7 852.8,58.4 854.2,58.1 855.7,57.8 857.2,57.5 858.7,57.3 860.2,57.0 861.7,56.7 863.2,56.4 864.7,56.1 866.2,55.9 867.6,55.6 869.1,55.4 870.6,55.2 872.1,55.0 873.6,54.8 875.1,54.6 876.7,54.4 878.3,54.3 879.9,54.1 881.5,54.0 883.1,53.9 884.7,53.8 886.3,53.7 887.9,53.7 889.5,53.6 891.1,53.5 892.7,53.5 894.3,53.4 896.0,53.3 897.6,53.3 899.2,53.2 900.8,53.2 902.4,53.1 904.0,53.1 905.6,53.1 907.2,53.0 908.8,53.0 910.4,53.0 912.0,52.9 913.6,52.9 915.2,52.9 916.8,52.8 918.4,52.8 920.0,52.7 921.6,52.7 923.2,52.6 924.8,52.6 926.4,52.5 928.0,52.5 929.6,52.5 931.2,52.4 932.8,52.4 934.4,52.3 936.0,52.3 937.7,52.3 939.3,52.3 940.9,52.3 942.5,52.3 944.1,52.3 945.7,52.3 947.3,52.3 948.9,52.3 950.5,52.3 952.1,52.3 953.7,52.3 955.3,52.3 956.9,52.3 958.5,52.3" fill="none" stroke="#00ffff" stroke-width="3.3" stroke-linejoin="round"/>
<ellipse cx="124.5" cy="63.4" rx="7.8" ry="7.6" fill="#00ffff"/>
<ellipse cx="145.4" cy="70.5" rx="7.8" ry="7.6" fill="#00ffff"/>
<ellipse cx="166.2" cy="88.1" rx="7.8" ry="7.6" fill="#00ffff"/>
<ellipse cx="182.9" cy="118.2" rx="7.8" ry="7.6" fill="#00ffff"/>
<ellipse cx="205.8" cy="187.9" rx="7.8" ry="7.6" fill="#00ffff"/>
<ellipse cx="232.9" cy="222.4" rx="7.8" ry="7.6" fill="#00ffff"/>
<ellipse cx="255.2" cy="150.5" rx="7.8" ry="7.6" fill="#00ffff"/>
<ellipse cx="272.5" cy="126.1" rx="7.8" ry="7.6" fill="#00ffff"/>
<ellipse cx="291.3" cy="116.4" rx="7.8" ry="7.6" fill="#00ffff"/>
<ellipse cx="314.2" cy="101.4" rx="7.8" ry="7.6" fill="#00ffff"/>
<ellipse cx="333.0" cy="89.9" rx="7.8" ry="7.6" fill="#00ffff"/>
<ellipse cx="353.8" cy="86.4" rx="7.8" ry="7.6" fill="#00ffff"/>
<ellipse cx="374.7" cy="85.3" rx="7.8" ry="7.6" fill="#00ffff"/>
<ellipse cx="395.5" cy="84.3" rx="7.8" ry="7.6" fill="#00ffff"/>
<ellipse cx="416.4" cy="90.4" rx="7.8" ry="7.6" fill="#00ffff"/>
<ellipse cx="437.2" cy="101.4" rx="7.8" ry="7.6" fill="#00ffff"/>
<ellipse cx="458.1" cy="128.1" rx="7.8" ry="7.6" fill="#00ffff"/>
<ellipse cx="479.0" cy="201.5" rx="7.8" ry="7.6" fill="#00ffff"/>
<ellipse cx="499.8" cy="167.6" rx="7.8" ry="7.6" fill="#00ffff"/>
<ellipse cx="520.7" cy="121.0" rx="7.8" ry="7.6" fill="#00ffff"/>
<ellipse cx="541.5" cy="132.6" rx="7.8" ry="7.6" fill="#00ffff"/>
<ellipse cx="561.7" cy="234.4" rx="7.8" ry="7.6" fill="#00ffff"/>
<ellipse cx="583.2" cy="267.0" rx="7.8" ry="7.6" fill="#00ffff"/>
<ellipse cx="604.0" cy="233.8" rx="7.8" ry="7.6" fill="#00ffff"/>
<ellipse cx="624.9" cy="348.6" rx="7.8" ry="7.6" fill="#00ffff"/>
<ellipse cx="644.3" cy="326.0" rx="7.8" ry="7.6" fill="#00ffff"/>
<ellipse cx="663.5" cy="125.9" rx="7.8" ry="7.6" fill="#00ffff"/>
<ellipse cx="684.3" cy="97.3" rx="7.8" ry="7.6" fill="#00ffff"/>
<ellipse cx="708.3" cy="84.1" rx="7.8" ry="7.6" fill="#00ffff"/>
<ellipse cx="729.2" cy="82.7" rx="7.8" ry="7.6" fill="#00ffff"/>
<ellipse cx="750.0" cy="75.8" rx="7.8" ry="7.6" fill="#00ffff"/>
<ellipse cx="770.8" cy="70.5" rx="7.8" ry="7.6" fill="#00ffff"/>
<ellipse cx="791.7" cy="68.0" rx="7.8" ry="7.6" fill="#00ffff"/>
<ellipse cx="812.5" cy="65.4" rx="7.8" ry="7.6" fill="#00ffff"/>
<ellipse cx="833.4" cy="62.7" rx="7.8" ry="7.6" fill="#00ffff"/>
<ellipse cx="854.2" cy="58.1" rx="7.8" ry="7.6" fill="#00ffff"/>
<ellipse cx="875.1" cy="54.6" rx="7.8" ry="7.6" fill="#00ffff"/>
<ellipse cx="896.0" cy="53.7" rx="7.8" ry="7.6" fill="#00ffff"/>
<ellipse cx="916.8" cy="52.8" rx="7.8" ry="7.6" fill="#00ffff"/>
<ellipse cx="937.7" cy="52.3" rx="7.8" ry="7.6" fill="#00ffff"/>
<ellipse cx="958.5" cy="52.3" rx="7.8" ry="7.6" fill="#00ffff"/>
<polyline points="124.5,28.4 126.0,28.9 127.5,29.3 129.0,29.6 130.4,30.0 131.9,30.4 133.4,30.8 134.9,31.2 136.4,31.6 137.9,32.0 139.4,32.4 140.8,32.8 142.3,33.3 143.8,33.8 145.4,34.3 146.8,34.8 148.3,35.3 149.8,35.8 151.3,36.4 152.8,36.9 154.3,37.5 155.9,38.0 157.4,38.6 158.9,39.3 160.4,39.9 161.8,40.5 163.2,41.2 164.6,41.9 165.9,42.5 167.1,43.3 168.3,44.0 169.7,44.9 170.9,45.9 172.2,46.9 173.3,47.9 174.4,49.0 175.4,50.0 176.5,51.1 177.4,52.3 178.4,53.4 179.3,54.6 180.3,55.8 181.1,57.1 182.0,58.4 182.8,59.7 183.6,61.1 184.4,62.4 185.1,63.8 185.8,65.2 186.4,66.5 187.0,67.8 187.7,69.2 188.2,70.6 188.7,72.0 189.2,73.3 189.6,74.7 190.1,76.1 190.6,77.7 191.2,79.3 191.7,80.5 192.2,81.8 192.7,83.1 193.2,84.5 193.8,85.9 194.4,87.3 195.0,88.8 195.6,90.3 196.2,91.9 196.8,93.4 197.4,95.0 198.1,96.6 198.7,98.1 199.3,99.7 199.9,101.2 200.5,102.8 201.1,104.3 201.6,105.8 202.2,107.3 202.8,108.7 203.3,110.2 203.9,111.6 204.5,113.1 205.1,114.6 205.7,116.0 206.2,117.5 206.8,119.0 207.3,120.4 207.9,121.9 208.4,123.4 208.9,124.8 209.4,126.3 209.8,127.8 210.3,129.3 210.7,130.8 211.0,132.3 211.4,133.8 211.6,135.3 211.9,136.7 212.1,138.2 212.3,139.6 212.5,141.0 212.7,142.5 212.8,143.9 213.0,145.4 213.1,146.9 213.2,148.4 213.3,149.9 213.4,151.5 213.6,153.1 213.7,154.8 213.8,156.5 214.0,158.2 214.2,160.0 214.3,161.3 214.4,162.5 214.5,163.9 214.7,165.2 214.8,166.6 214.9,168.0 215.0,169.5 215.2,170.9 215.3,172.4 215.4,174.0 215.6,175.5 215.7,177.1 215.8,178.7 216.0,180.3 216.1,181.9 216.3,183.5 216.4,185.1 216.5,186.8 216.7,188.4 216.8,190.0 216.9,191.7 217.1,193.3 217.2,195.0 217.3,196.6 217.5,198.3 217.6,199.9 217.7,201.5 217.9,203.1 218.0,204.7 218.1,206.3 218.3,207.8 218.4,209.3 218.5,210.8 218.7,212.3 218.8,213.8 218.9,215.2 219.0,216.6 219.1,218.0 219.3,219.3 219.4,220.6 219.5,222.4 219.7,224.3 219.8,226.2 220.0,228.2 220.1,230.2 220.3,232.3 220.4,234.3 220.5,236.3 220.7,238.3 220.8,240.2 220.9,242.0 221.1,243.7 221.2,245.4 221.3,246.9 221.5,248.2 221.6,249.4 221.7,250.4 221.9,251.3 222.0,251.9 222.1,252.2 222.3,252.4 222.4,252.2 222.6,251.8 222.7,251.2 222.8,250.3 222.9,249.2 223.0,247.9 223.2,246.4 223.3,244.8 223.4,243.1 223.5,241.3 223.6,239.4 223.7,237.4 223.9,235.4 224.0,233.4 224.2,231.4 224.3,229.4 224.5,227.5 224.6,225.6 224.8,223.8 225.0,222.1 225.2,220.6 225.4,219.0 225.7,217.4 225.9,215.9 226.2,214.3 226.5,212.8 226.8,211.3 227.1,209.7 227.4,208.2 227.7,206.7 228.0,205.1 228.3,203.6 228.6,202.1 228.9,200.6 229.3,199.0 229.6,197.5 229.9,195.9 230.2,194.4 230.5,192.8 230.8,191.3 231.1,189.8 231.4,188.3 231.7,186.8 232.0,185.3 232.3,183.8 232.6,182.2 232.9,180.7 233.1,179.1 233.4,177.6 233.7,176.1 234.0,174.5 234.3,173.0 234.6,171.5 234.9,170.0 235.2,168.5 235.5,167.0 235.8,165.6 236.1,164.1 236.5,162.7 236.8,161.4 237.1,160.0 237.5,158.4 237.9,156.9 238.3,155.4 238.7,153.9 239.1,152.5 239.6,151.1 240.0,149.7 240.4,148.3 240.8,146.8 241.3,145.4 241.7,144.0 242.1,142.5 242.5,140.9 242.9,139.4 243.3,138.0 243.6,136.5 243.8,135.0 244.1,133.4 244.4,131.8 244.6,130.2 244.9,128.5 245.1,126.9 245.4,125.2 245.6,123.5 245.9,121.9 246.2,120.3 246.5,118.7 246.9,117.1 247.2,115.7 247.6,114.2 248.0,112.9 248.5,111.6 249.0,110.4 249.6,109.3 250.5,107.9 251.6,106.6 252.7,105.5 253.9,104.6 255.1,103.6 256.3,102.7 257.6,101.8 258.8,100.8 260.0,99.6 261.0,98.5 262.0,97.4 263.0,96.3 264.0,95.1 265.0,93.9 266.0,92.7 267.0,91.5 268.0,90.2 269.1,89.0 270.2,87.8 271.4,86.6 272.5,85.5 273.6,84.5 274.8,83.4 275.9,82.4 277.1,81.4 278.3,80.3 279.5,79.3 280.8,78.2 282.1,77.2 283.3,76.2 284.6,75.3 286.0,74.4 287.3,73.5 288.6,72.6 290.0,71.8 291.3,71.0 292.7,70.3 294.1,69.6 295.6,68.9 297.1,68.3 298.5,67.7 300.0,67.1 301.5,66.6 303.0,66.1 304.6,65.6 306.1,65.2 307.6,64.7 309.1,64.3 310.6,63.8 312.1,63.4 313.6,63.0 315.1,62.6 316.5,62.2 318.0,61.8 319.4,61.4 320.9,61.0 322.3,60.7 323.8,60.4 325.3,60.1 326.8,59.8 328.3,59.6 329.8,59.4 331.4,59.3 333.0,59.2 334.4,59.1 335.9,59.1 337.5,59.2 339.0,59.3 340.6,59.4 342.3,59.5 343.9,59.7 345.6,59.8 347.2,60.0 348.9,60.3 350.5,60.5 352.1,60.8 353.7,61.0 355.3,61.3 356.8,61.6 358.2,61.9 359.6,62.2 360.9,62.4 362.2,62.7 364.0,63.1 365.7,63.6 367.2,64.0 368.6,64.5 370.1,65.0 371.5,65.6 373.1,66.2 374.7,66.9 375.9,67.5 377.1,68.1 378.4,68.7 379.6,69.3 381.0,70.0 382.3,70.7 383.6,71.4 385.0,72.2 386.3,73.0 387.7,73.8 389.0,74.7 390.4,75.5 391.7,76.4 393.0,77.4 394.3,78.3 395.5,79.3 396.7,80.2 397.8,81.1 398.8,82.1 399.9,83.0 401.0,84.0 402.1,85.0 403.1,86.0 404.2,87.1 405.2,88.1 406.3,89.2 407.3,90.3 408.3,91.5 409.3,92.7 410.4,93.9 411.4,95.1 412.4,96.4 413.4,97.6 414.4,99.0 415.4,100.3 416.4,101.7 417.1,102.8 417.9,103.9 418.6,105.1 419.3,106.3 420.0,107.6 420.8,108.9 421.5,110.2 422.2,111.5 422.9,112.9 423.6,114.3 424.3,115.8 425.0,117.2 425.7,118.7 426.4,120.2 427.1,121.7 427.7,123.2 428.4,124.7 429.1,126.2 429.8,127.7 430.5,129.2 431.2,130.7 431.8,132.1 432.5,133.6 433.2,135.0 433.9,136.5 434.6,137.9 435.2,139.2 435.9,140.6 436.6,141.9 437.3,143.2 438.0,144.4 438.7,145.6 439.3,146.8 440.0,147.9 440.7,148.9 441.4,149.9 442.5,151.4 443.5,152.7 444.5,153.9 445.6,155.1 446.6,156.2 447.6,157.3 448.6,158.3 449.7,159.3 450.7,160.3 451.7,161.3 452.8,162.3 453.8,163.3 454.9,164.3 455.9,165.3 457.0,166.4 458.1,167.6 459.1,168.7 460.0,169.9 461.0,171.3 462.0,172.7 463.0,174.1 464.0,175.6 465.0,177.2 466.0,178.7 467.0,180.3 468.1,181.8 469.1,183.2 470.1,184.6 471.1,186.0 472.1,187.2 473.1,188.3 474.1,189.3 475.1,190.1 476.1,190.7 477.1,191.2 478.0,191.4 479.0,191.5 479.8,191.3 480.6,190.9 481.4,190.4 482.2,189.6 482.9,188.8 483.7,187.8 484.4,186.6 485.2,185.4 485.9,184.0 486.6,182.6 487.3,181.0 488.1,179.4 488.8,177.8 489.5,176.1 490.2,174.3 491.0,172.6 491.7,170.8 492.4,169.0 493.2,167.3 494.0,165.6 494.8,163.9 495.5,162.2 496.4,160.7 497.2,159.2 498.0,157.8 498.9,156.4 499.8,155.2 500.8,154.0 501.9,152.6 503.0,151.3 504.2,149.9 505.3,148.5 506.5,147.0 507.8,145.6 509.0,144.3 510.2,142.9 511.5,141.6 512.7,140.3 513.9,139.0 515.2,137.9 516.4,136.8 517.6,135.8 518.7,134.8 519.8,134.0 520.9,133.3 522.0,132.7 523.0,132.3 523.9,131.9 524.8,131.8 526.4,131.8 527.9,132.4 529.3,133.3 530.6,134.4 531.9,135.6 533.2,136.7 534.3,137.7 535.4,138.7 536.5,139.9 537.6,141.1 538.7,142.3 539.7,143.6 540.6,145.0 541.5,146.4 542.2,147.7 542.8,149.0 543.4,150.3 543.9,151.8 544.4,153.2 544.8,154.7 545.3,156.2 545.8,157.7 546.2,159.3 546.7,160.8 547.1,162.3 547.6,163.7 548.0,165.1 548.4,166.5 548.8,167.9 549.2,169.3 549.6,170.7 549.9,172.1 550.3,173.6 550.8,175.0 551.2,176.5 551.6,178.1 552.1,179.6 552.6,181.2 553.0,182.6 553.4,184.0 553.8,185.4 554.3,186.9 554.7,188.5 555.2,190.1 555.6,191.7 556.1,193.3 556.6,194.9 557.1,196.5 557.6,198.1 558.1,199.7 558.6,201.3 559.1,202.8 559.6,204.3 560.2,205.7 560.7,207.1 561.2,208.4 561.8,209.7 562.3,210.9 563.2,212.6 564.1,214.3 565.0,215.9 565.9,217.4 566.8,218.8 567.8,220.1 568.7,221.3 569.7,222.3 570.7,223.2 572.3,224.3 573.9,225.0 575.5,225.5 577.2,225.9 578.6,226.2 580.1,226.4 581.6,226.6 583.2,226.8 584.5,227.0 585.9,227.3 587.4,227.6 588.9,227.9 590.5,228.2 592.1,228.4 593.6,228.5 595.1,228.5 596.7,228.3 598.3,228.0 599.9,227.8 601.5,227.5 603.1,227.4 604.6,227.4 606.1,227.7 607.5,228.1 608.8,228.7 610.2,229.5 611.5,230.3 612.8,231.2 614.1,232.2 615.3,233.3 616.5,234.4 617.6,235.4 618.6,236.5 619.7,237.6 620.7,238.8 621.5,239.9 622.3,241.2 623.1,242.4 623.9,243.8 624.6,245.4 625.3,247.1 625.7,248.1 626.1,249.3 626.5,250.5 626.9,251.8 627.2,253.1 627.6,254.5 627.9,255.9 628.2,257.4 628.5,258.9 628.8,260.5 629.1,262.0 629.4,263.6 629.7,265.3 630.0,266.9 630.3,268.5 630.6,270.1 630.9,271.8 631.2,273.4 631.5,274.9 631.9,276.5 632.2,278.0 632.5,279.5 632.9,281.0 633.2,282.4 633.7,284.0 634.1,285.8 634.6,287.7 635.0,289.6 635.5,291.5 636.0,293.5 636.4,295.5 636.9,297.5 637.4,299.4 637.9,301.2 638.4,302.9 638.9,304.6 639.3,306.0 639.8,307.4 640.3,308.5 640.7,309.4 641.2,310.1 641.6,310.5 642.0,310.7 642.5,310.4 642.9,309.9 643.3,309.0 643.8,307.8 644.2,306.3 644.6,304.7 645.0,302.9 645.4,301.0 645.8,299.0 646.2,297.0 646.6,295.0 647.0,293.0 647.4,291.2 647.8,289.5 648.2,288.1 648.6,286.7 648.9,285.4 649.3,284.0 649.7,282.6 650.1,281.1 650.5,279.7 650.9,278.3 651.2,276.8 651.6,275.3 652.0,273.9 652.4,272.4 652.8,270.9 653.1,269.3 653.5,267.8 653.8,266.3 654.1,264.7 654.4,263.1 654.7,261.6 655.0,260.0 655.2,258.5 655.4,257.1 655.6,255.6 655.8,254.0 656.0,252.5 656.1,250.9 656.3,249.3 656.4,247.7 656.6,246.1 656.7,244.5 656.8,242.8 656.9,241.2 657.0,239.6 657.1,237.9 657.2,236.3 657.4,234.7 657.5,233.1 657.6,231.5 657.7,230.0 657.8,228.5 657.9,227.0 658.1,225.5 658.2,224.1 658.4,222.7 658.5,221.4 658.7,220.1 659.0,218.3 659.3,216.6 659.5,215.1 659.9,213.6 660.2,212.1 660.5,210.7 660.8,209.3 661.1,207.9 661.4,206.4 661.8,204.9 662.0,203.3 662.3,201.7 662.6,199.9 662.8,198.6 662.9,197.3 663.1,195.9 663.2,194.4 663.4,192.9 663.5,191.4 663.7,189.8 663.8,188.2 663.9,186.6 664.0,184.9 664.2,183.3 664.3,181.6 664.4,179.9 664.5,178.3 664.6,176.6 664.8,174.9 664.9,173.3 665.0,171.7 665.1,170.1 665.3,168.5 665.4,167.0 665.6,165.5 665.7,164.1 665.9,162.7 666.0,161.3 666.2,160.0 666.5,158.3 666.7,156.7 666.9,155.1 667.2,153.6 667.4,152.2 667.6,150.8 667.9,149.4 668.2,148.0 668.5,146.6 668.8,145.2 669.2,143.7 669.6,142.2 670.0,140.6 670.4,139.2 670.8,137.9 671.2,136.5 671.7,135.0 672.1,133.6 672.6,132.1 673.1,130.6 673.6,129.1 674.2,127.5 674.7,126.0 675.3,124.5 675.9,123.0 676.4,121.5 677.0,120.0 677.6,118.5 678.2,117.0 678.9,115.6 679.5,114.2 680.1,112.8 680.7,111.5 681.4,110.0 682.1,108.5 682.8,107.1 683.5,105.7 684.2,104.4 684.9,103.0 685.7,101.7 686.4,100.4 687.2,99.0 688.0,97.7 688.8,96.4 689.6,95.1 690.4,93.8 691.3,92.5 692.1,91.2 693.0,89.9 693.9,88.6 694.7,87.3 695.6,86.0 696.5,84.7 697.5,83.4 698.4,82.0 699.4,80.7 700.4,79.4 701.4,78.0 702.4,76.7 703.4,75.5 704.4,74.2 705.4,73.0 706.4,71.9 707.4,70.8 708.4,69.7 709.4,68.8 710.4,67.8 711.7,66.7 713.0,65.6 714.2,64.6 715.5,63.7 716.8,62.9 718.1,62.1 719.4,61.4 720.8,60.7 722.3,60.0 723.9,59.4 725.2,58.9 726.6,58.5 728.0,58.1 729.5,57.7 731.0,57.4 732.5,57.1 734.1,56.9 735.7,56.6 737.4,56.4 739.0,56.1 740.6,55.9 742.2,55.7 743.9,55.5 745.4,55.3 747.0,55.1 748.5,54.8 750.0,54.6 751.6,54.3 753.1,54.0 754.6,53.8 756.1,53.5 757.6,53.2 759.1,53.0 760.6,52.7 762.0,52.4 763.5,52.2 765.0,52.0 766.4,51.7 767.9,51.5 769.4,51.3 770.8,51.1 772.4,50.8 774.0,50.6 775.5,50.4 777.0,50.3 778.6,50.1 780.1,49.9 781.6,49.8 783.2,49.6 784.8,49.5 786.4,49.3 788.1,49.1 789.9,48.9 791.7,48.8 793.0,48.6 794.3,48.5 795.7,48.4 797.2,48.3 798.6,48.2 800.1,48.0 801.6,47.9 803.1,47.8 804.7,47.7 806.3,47.6 807.8,47.5 809.4,47.4 811.0,47.3 812.7,47.1 814.3,47.0 815.9,46.9 817.5,46.7 819.1,46.6 820.7,46.4 822.3,46.2 823.8,46.0 825.4,45.8 826.9,45.6 828.4,45.4 829.9,45.1 831.3,44.9 832.9,44.5 834.5,44.2 836.0,43.8 837.6,43.4 839.2,42.9 840.7,42.5 842.2,42.0 843.7,41.5 845.3,41.0 846.7,40.5 848.2,40.0 849.7,39.5 851.2,39.1 852.6,38.6 854.1,38.1 855.5,37.7 857.0,37.2 858.4,36.9 859.8,36.5 861.2,36.2 862.6,35.9 864.2,35.6 865.8,35.3 867.3,35.0 868.8,34.8 870.3,34.6 871.8,34.4 873.3,34.2 874.8,34.1 876.2,34.0 877.7,33.8 879.2,33.7 880.8,33.6 882.3,33.6 883.9,33.5 885.5,33.4 887.0,33.3 888.4,33.3 889.9,33.3 891.4,33.3 892.9,33.3 894.4,33.3 895.9,33.3 897.5,33.4 899.0,33.4 900.6,33.5 902.1,33.5 903.7,33.6 905.3,33.6 906.9,33.7 908.6,33.7 910.2,33.8 911.8,33.8 913.5,33.9 915.1,33.9 916.8,33.9 918.2,33.9 919.7,33.9 921.2,34.0 922.7,34.0 924.2,34.0 925.7,34.0 927.2,34.0 928.7,34.0 930.3,34.0 931.8,34.0 933.4,34.0 934.9,34.0 936.5,34.0 938.1,34.0 939.6,34.0 941.2,34.0 942.8,34.0 944.4,33.9 946.0,33.9 947.5,33.9 949.1,33.9 950.7,33.9 952.3,33.9 953.8,33.9 955.4,33.9 957.0,33.9 958.5,33.9" fill="none" stroke="#00ff00" stroke-width="3.4" stroke-linejoin="round"/>
<polygon points="124.5,19.7 132.0,33.7 117.0,33.7" fill="#00ff00"/>
<polygon points="168.3,38.2 175.8,52.2 160.8,52.2" fill="#00ff00"/>
<polygon points="211.0,123.9 218.5,137.9 203.5,137.9" fill="#00ff00"/>
<polygon points="249.6,100.9 257.1,114.9 242.1,114.9" fill="#00ff00"/>
<polygon points="291.3,62.6 298.8,76.6 283.8,76.6" fill="#00ff00"/>
<polygon points="333.0,50.8 340.5,64.8 325.5,64.8" fill="#00ff00"/>
<polygon points="372.6,58.5 380.1,72.5 365.1,72.5" fill="#00ff00"/>
<polygon points="416.4,93.3 423.9,107.3 408.9,107.3" fill="#00ff00"/>
<polygon points="458.1,159.2 465.6,173.2 450.6,173.2" fill="#00ff00"/>
<polygon points="499.8,146.8 507.3,160.8 492.3,160.8" fill="#00ff00"/>
<polygon points="541.5,138.0 549.0,152.0 534.0,152.0" fill="#00ff00"/>
<polygon points="583.2,217.5 590.7,231.5 575.7,231.5" fill="#00ff00"/>
<polygon points="625.3,237.6 632.8,251.6 617.8,251.6" fill="#00ff00"/>
<polygon points="708.3,60.7 715.8,74.7 700.8,74.7" fill="#00ff00"/>
<polygon points="750.0,46.2 757.5,60.2 742.5,60.2" fill="#00ff00"/>
<polygon points="791.7,40.4 799.2,54.4 784.2,54.4" fill="#00ff00"/>
<polygon points="833.4,35.6 840.9,49.6 825.9,49.6" fill="#00ff00"/>
<polygon points="875.1,23.6 882.6,37.6 867.6,37.6" fill="#00ff00"/>
<polygon points="916.8,23.2 924.3,37.2 909.3,37.2" fill="#00ff00"/>
<polygon points="958.5,22.9 966.0,36.9 951.0,36.9" fill="#00ff00"/>
<polyline points="124.5,48.4 126.0,48.6 127.5,48.8 129.0,49.0 130.5,49.2 132.0,49.3 133.5,49.5 135.0,49.6 136.5,49.8 138.0,50.1 139.5,50.3 141.0,50.6 142.5,51.0 143.9,51.4 145.4,51.9 146.7,52.5 148.1,53.1 149.4,53.7 150.8,54.4 152.1,55.1 153.4,55.8 154.7,56.6 156.1,57.4 157.4,58.3 158.7,59.1 159.9,60.1 161.2,61.0 162.5,62.0 163.7,63.0 165.0,64.1 166.2,65.2 167.2,66.1 168.2,67.1 169.3,68.1 170.3,69.1 171.3,70.1 172.2,71.1 173.2,72.2 174.2,73.3 175.1,74.4 176.1,75.5 177.0,76.7 178.0,77.9 178.9,79.1 179.8,80.4 180.8,81.7 181.7,83.0 182.6,84.4 183.5,85.8 184.4,87.2 185.3,88.6 186.2,90.1 187.0,91.7 187.7,92.8 188.3,93.9 188.9,95.0 189.5,96.2 190.1,97.4 190.7,98.6 191.4,99.8 192.0,101.1 192.6,102.4 193.2,103.7 193.9,105.0 194.5,106.4 195.1,107.8 195.7,109.2 196.3,110.6 196.9,112.0 197.5,113.4 198.2,114.9 198.8,116.3 199.3,117.8 199.9,119.3 200.5,120.8 201.1,122.3 201.7,123.8 202.3,125.3 202.8,126.8 203.4,128.3 203.9,129.9 204.5,131.4 205.0,132.9 205.5,134.5 206.0,136.0 206.5,137.5 207.0,139.1 207.5,140.6 208.0,142.1 208.5,143.7 208.9,145.2 209.4,146.7 209.8,148.2 210.2,149.7 210.6,151.2 211.0,152.7 211.4,154.1 211.7,155.6 212.1,157.0 212.4,158.5 212.7,160.0 213.1,161.6 213.4,163.1 213.6,164.6 213.9,166.2 214.1,167.8 214.4,169.3 214.6,170.9 214.8,172.5 215.0,174.1 215.2,175.6 215.4,177.2 215.5,178.8 215.7,180.4 215.8,182.0 216.0,183.6 216.1,185.2 216.2,186.7 216.4,188.3 216.5,189.9 216.6,191.5 216.7,193.0 216.8,194.6 216.8,196.1 216.9,197.7 217.0,199.2 217.1,200.7 217.2,202.2 217.3,203.7 217.3,205.2 217.4,206.7 217.5,208.2 217.6,209.6 217.7,211.1 217.7,212.5 217.8,213.9 217.9,215.3 218.0,216.6 218.1,218.0 218.2,219.3 218.3,220.6 218.5,222.3 218.6,224.1 218.8,225.8 218.9,227.6 219.0,229.3 219.2,231.0 219.3,232.7 219.4,234.4 219.5,236.0 219.6,237.6 219.7,239.2 219.9,240.8 220.0,242.4 220.1,243.9 220.2,245.4 220.3,246.8 220.4,248.2 220.5,249.6 220.6,251.0 220.7,252.3 220.8,253.5 220.9,254.7 221.0,255.9 221.2,257.9 221.4,260.0 221.6,262.1 221.8,264.0 222.0,265.7 222.1,267.1 222.3,268.0 222.5,268.3 222.7,267.9 222.9,267.0 223.0,265.7 223.2,263.9 223.4,262.0 223.6,259.9 223.8,257.8 224.0,255.9 224.1,254.6 224.2,253.3 224.4,251.9 224.5,250.4 224.6,249.0 224.8,247.4 224.9,245.9 225.0,244.3 225.2,242.7 225.3,241.1 225.5,239.4 225.7,237.8 225.8,236.1 226.0,234.4 226.2,232.8 226.4,231.1 226.7,229.4 226.9,228.0 227.1,226.5 227.3,225.0 227.5,223.6 227.8,222.1 228.0,220.5 228.3,219.0 228.5,217.5 228.8,215.9 229.0,214.4 229.3,212.8 229.6,211.2 229.9,209.7 230.2,208.1 230.5,206.5 230.7,204.9 231.0,203.4 231.4,201.8 231.7,200.3 232.0,198.7 232.3,197.2 232.6,195.6 232.9,194.1 233.2,192.6 233.6,191.1 233.9,189.6 234.2,188.1 234.5,186.6 234.8,185.1 235.2,183.5 235.5,182.0 235.9,180.5 236.2,179.0 236.5,177.5 236.9,176.0 237.3,174.5 237.6,173.1 238.0,171.6 238.4,170.1 238.8,168.6 239.2,167.2 239.6,165.7 240.0,164.3 240.4,162.8 240.8,161.4 241.3,160.0 241.7,158.5 242.2,157.0 242.7,155.5 243.2,154.0 243.6,152.6 244.1,151.1 244.6,149.7 245.1,148.2 245.6,146.8 246.1,145.3 246.6,143.9 247.2,142.5 247.8,141.1 248.4,139.7 249.0,138.3 249.6,136.9 250.3,135.5 251.0,134.1 251.7,132.8 252.5,131.4 253.3,130.1 254.1,128.9 254.9,127.6 255.7,126.3 256.6,125.0 257.5,123.6 258.5,122.3 259.4,121.0 260.4,119.7 261.4,118.5 262.4,117.2 263.4,115.9 264.4,114.7 265.5,113.5 266.5,112.3 267.5,111.1 268.6,110.0 269.6,108.9 270.6,107.9 271.7,106.8 272.7,105.9 273.6,104.9 274.6,104.0 275.9,102.9 277.2,101.9 278.4,101.0 279.7,100.1 280.9,99.2 282.2,98.4 283.4,97.7 284.7,97.0 286.0,96.3 287.3,95.6 288.6,94.9 289.9,94.2 291.3,93.4 292.6,92.8 293.9,92.1 295.3,91.5 296.6,90.8 298.0,90.2 299.4,89.6 300.8,88.9 302.2,88.3 303.6,87.8 305.0,87.2 306.5,86.6 307.9,86.1 309.3,85.6 310.7,85.1 312.1,84.6 313.6,84.1 315.1,83.6 316.6,83.2 318.1,82.7 319.5,82.3 321.0,81.9 322.5,81.5 324.0,81.1 325.5,80.7 327.0,80.4 328.5,80.1 330.0,79.8 331.5,79.5 333.0,79.3 334.6,79.1 336.2,78.9 337.8,78.7 339.4,78.6 341.0,78.5 342.6,78.4 344.2,78.4 345.8,78.3 347.4,78.3 349.0,78.3 350.6,78.3 352.2,78.4 353.8,78.4 355.3,78.5 356.8,78.6 358.3,78.6 359.8,78.7 361.3,78.8 362.8,78.9 364.3,79.1 365.8,79.3 367.3,79.5 368.8,79.7 370.3,80.0 371.8,80.3 373.2,80.7 374.7,81.1 376.1,81.5 377.6,82.0 379.0,82.6 380.4,83.2 381.8,83.8 383.2,84.5 384.6,85.2 386.0,85.9 387.4,86.7 388.8,87.4 390.1,88.2 391.5,89.1 392.9,89.9 394.2,90.8 395.5,91.7 396.8,92.5 397.9,93.3 399.1,94.2 400.3,95.1 401.5,96.1 402.7,97.0 403.8,98.0 405.0,99.0 406.1,100.0 407.3,101.0 408.4,102.0 409.6,103.1 410.7,104.1 411.8,105.2 413.0,106.2 414.1,107.3 415.3,108.3 416.4,109.3 417.5,110.3 418.6,111.4 419.7,112.4 420.8,113.5 421.9,114.6 423.0,115.7 424.0,116.8 425.1,117.9 426.2,119.0 427.3,120.1 428.4,121.2 429.5,122.3 430.6,123.4 431.6,124.4 432.8,125.5 433.9,126.5 435.0,127.4 436.1,128.4 437.2,129.3 438.5,130.3 439.8,131.2 441.1,132.1 442.3,133.0 443.6,133.9 444.9,134.8 446.2,135.6 447.5,136.4 448.8,137.2 450.1,138.0 451.5,138.8 452.8,139.5 454.1,140.2 455.4,141.0 456.8,141.7 458.1,142.4 459.5,143.1 460.8,143.8 462.2,144.6 463.6,145.3 465.0,146.1 466.4,146.8 467.8,147.6 469.2,148.2 470.6,148.9 472.0,149.4 473.4,149.9 474.8,150.3 476.2,150.6 477.6,150.8 479.0,150.8 480.3,150.8 481.7,150.5 483.1,150.2 484.5,149.7 485.9,149.2 487.3,148.5 488.7,147.9 490.0,147.1 491.4,146.4 492.8,145.6 494.2,144.9 495.6,144.2 497.0,143.5 498.4,142.9 499.8,142.4 501.3,141.8 502.8,141.3 504.2,140.7 505.7,140.2 507.2,139.6 508.7,139.1 510.2,138.5 511.7,138.0 513.2,137.6 514.7,137.2 516.2,136.9 517.7,136.6 519.2,136.4 520.7,136.4 522.2,136.3 523.7,136.3 525.2,136.3 526.8,136.3 528.4,136.4 529.9,136.5 531.5,136.7 533.0,137.0 534.5,137.3 536.0,137.8 537.5,138.4 538.9,139.2 540.2,140.1 541.5,141.1 542.2,141.8 542.9,142.6 543.5,143.4 544.2,144.3 544.8,145.3 545.4,146.4 546.0,147.5 546.5,148.6 547.1,149.9 547.6,151.1 548.1,152.5 548.6,153.8 549.1,155.3 549.6,156.7 550.1,158.2 550.5,159.8 551.0,161.3 551.4,162.9 551.8,164.5 552.3,166.2 552.7,167.8 553.1,169.5 553.5,171.2 553.9,172.9 554.3,174.6 554.7,176.3 555.1,178.0 555.5,179.7 555.9,181.4 556.4,183.1 556.8,184.8 557.2,186.5 557.6,188.1 558.0,189.8 558.5,191.4 558.9,192.9 559.4,194.5 559.8,196.0 560.3,197.5 560.8,198.9 561.3,200.3 561.8,201.6 562.3,202.9 563.0,204.5 563.6,206.0 564.3,207.6 564.9,209.2 565.5,210.8 566.2,212.4 566.8,214.0 567.4,215.7 568.1,217.3 568.7,218.9 569.4,220.5 570.0,222.0 570.7,223.6 571.3,225.2 572.0,226.7 572.7,228.1 573.4,229.6 574.0,231.0 574.7,232.4 575.4,233.7 576.2,235.0 576.9,236.2 577.6,237.3 578.4,238.4 579.1,239.5 579.9,240.4 580.7,241.3 581.5,242.2 582.4,242.9 583.2,243.5 584.6,244.4 586.0,245.0 587.6,245.4 589.1,245.7 590.7,245.9 592.3,245.9 593.9,245.9 595.5,245.9 597.0,245.9 598.5,245.9 599.8,246.0 601.1,246.2 602.8,246.5 604.4,246.8 606.0,247.1 607.4,247.5 608.7,247.9 610.0,248.5 611.4,249.3 612.7,250.3 613.8,251.5 615.0,252.7 615.9,253.9 616.9,255.2 617.8,256.6 618.6,258.1 619.4,259.6 620.2,261.2 620.8,262.6 621.5,264.1 622.0,265.7 622.6,267.3 623.1,268.9 623.6,270.5 624.1,272.2 624.5,273.9 624.8,275.4 625.1,276.9 625.4,278.4 625.6,279.9 625.8,281.4 626.0,283.0 626.2,284.6 626.4,286.3 626.7,288.1 627.0,290.0 627.2,291.2 627.4,292.5 627.6,293.9 627.7,295.4 627.9,296.8 628.1,298.4 628.3,299.9 628.5,301.5 628.7,303.2 628.9,304.8 629.1,306.5 629.3,308.2 629.6,309.9 629.8,311.5 630.0,313.2 630.3,314.9 630.6,316.5 630.8,318.1 631.1,319.7 631.4,321.3 631.8,322.8 632.1,324.3 632.5,325.7 632.8,327.0 633.2,328.3 633.8,330.0 634.4,331.9 635.1,333.7 635.8,335.6 636.6,337.5 637.3,339.4 638.1,341.1 638.9,342.7 639.6,344.2 640.4,345.4 641.1,346.4 641.8,347.2 642.4,347.6 643.0,347.7 643.4,347.6 643.8,347.2 644.1,346.6 644.5,345.9 644.8,345.0 645.1,343.9 645.4,342.7 645.6,341.4 645.9,339.9 646.2,338.4 646.4,336.7 646.7,335.0 646.9,333.2 647.1,331.3 647.3,329.4 647.6,327.5 647.8,325.5 648.0,323.5 648.2,321.6 648.5,319.6 648.7,317.7 648.9,315.8 649.2,314.0 649.4,312.2 649.7,310.5 649.9,308.9 650.2,307.5 650.4,306.0 650.7,304.6 650.9,303.1 651.2,301.7 651.5,300.2 651.7,298.8 652.0,297.3 652.2,295.8 652.5,294.3 652.8,292.8 653.0,291.3 653.3,289.8 653.6,288.3 653.8,286.8 654.1,285.3 654.4,283.8 654.6,282.3 654.9,280.8 655.1,279.3 655.4,277.8 655.6,276.3 655.9,274.8 656.1,273.3 656.4,271.8 656.6,270.3 656.8,268.9 657.1,267.4 657.3,265.9 657.5,264.4 657.7,263.0 657.9,261.4 658.1,259.8 658.3,258.2 658.5,256.6 658.7,255.0 658.9,253.4 659.0,251.8 659.2,250.1 659.4,248.5 659.5,246.9 659.7,245.3 659.8,243.6 660.0,242.0 660.1,240.4 660.3,238.8 660.4,237.2 660.6,235.7 660.8,234.1 660.9,232.6 661.1,231.1 661.2,229.6 661.4,228.2 661.6,226.7 661.7,225.3 661.9,224.0 662.1,222.6 662.3,221.3 662.5,220.1 662.8,218.3 663.1,216.6 663.5,215.0 663.8,213.5 664.2,212.1 664.5,210.7 664.9,209.2 665.2,207.8 665.6,206.4 665.9,204.9 666.3,203.3 666.6,201.7 666.9,199.9 667.1,198.6 667.3,197.3 667.5,195.9 667.6,194.5 667.8,193.0 668.0,191.5 668.1,190.0 668.2,188.4 668.4,186.8 668.5,185.2 668.7,183.6 668.8,182.0 668.9,180.3 669.1,178.7 669.2,177.1 669.4,175.4 669.5,173.8 669.7,172.2 669.9,170.6 670.1,169.0 670.3,167.4 670.5,165.9 670.7,164.3 671.0,162.9 671.2,161.4 671.5,160.0 671.9,158.4 672.2,156.8 672.6,155.2 673.0,153.7 673.5,152.1 673.9,150.6 674.4,149.1 674.8,147.6 675.3,146.1 675.8,144.7 676.3,143.2 676.8,141.8 677.2,140.4 677.7,139.0 678.2,137.6 678.7,136.2 679.2,134.9 679.7,133.6 680.2,132.3 680.7,130.7 681.3,129.1 681.8,127.6 682.3,126.1 682.8,124.7 683.3,123.3 683.9,121.9 684.4,120.4 685.1,119.0 685.8,117.6 686.6,116.1 687.5,114.6 688.2,113.5 688.9,112.3 689.7,111.1 690.6,109.9 691.4,108.6 692.4,107.3 693.3,106.1 694.3,104.8 695.3,103.5 696.3,102.2 697.4,100.9 698.4,99.7 699.5,98.5 700.6,97.3 701.7,96.1 702.8,94.9 703.9,93.8 705.0,92.8 706.1,91.8 707.2,90.8 708.3,89.9 709.6,88.9 710.9,88.0 712.3,87.1 713.6,86.3 715.0,85.5 716.4,84.8 717.8,84.1 719.2,83.5 720.6,82.8 722.1,82.2 723.5,81.6 724.9,81.0 726.3,80.4 727.7,79.8 729.2,79.1 730.5,78.5 731.9,77.9 733.3,77.2 734.7,76.6 736.0,76.0 737.4,75.3 738.8,74.7 740.2,74.1 741.6,73.6 743.0,73.0 744.4,72.4 745.8,71.9 747.2,71.4 748.6,70.9 750.0,70.5 751.5,70.0 752.9,69.6 754.4,69.2 755.9,68.9 757.4,68.5 758.9,68.2 760.4,67.9 761.9,67.6 763.4,67.4 764.9,67.1 766.4,66.8 767.9,66.6 769.4,66.3 770.8,66.1 772.3,65.8 773.8,65.6 775.3,65.4 776.8,65.2 778.3,65.0 779.8,64.8 781.3,64.6 782.8,64.5 784.2,64.3 785.7,64.1 787.2,64.0 788.7,63.8 790.2,63.6 791.7,63.4 793.2,63.2 794.7,63.0 796.2,62.8 797.7,62.7 799.1,62.5 800.6,62.3 802.1,62.1 803.6,61.9 805.1,61.7 806.6,61.5 808.1,61.3 809.6,61.1 811.1,61.0 812.5,60.8 814.0,60.6 815.5,60.4 817.0,60.2 818.5,60.0 820.0,59.9 821.5,59.7 823.0,59.5 824.5,59.3 826.0,59.1 827.4,58.9 828.9,58.7 830.4,58.5 831.9,58.3 833.4,58.1 834.9,57.9 836.4,57.7 837.9,57.4 839.4,57.2 840.9,57.0 842.3,56.7 843.8,56.5 845.3,56.2 846.8,55.9 848.3,55.7 849.8,55.4 851.3,55.1 852.8,54.9 854.2,54.6 855.7,54.3 857.2,54.0 858.7,53.7 860.2,53.3 861.7,53.0 863.2,52.6 864.7,52.3 866.2,52.0 867.6,51.6 869.1,51.3 870.6,51.0 872.1,50.7 873.6,50.4 875.1,50.2 876.7,49.9 878.3,49.7 879.9,49.5 881.5,49.2 883.1,49.0 884.7,48.9 886.3,48.7 887.9,48.5 889.5,48.4 891.1,48.2 892.7,48.1 894.3,48.0 896.0,47.9 897.6,47.8 899.2,47.7 900.8,47.7 902.4,47.6 904.0,47.6 905.6,47.6 907.2,47.6 908.8,47.5 910.4,47.5 912.0,47.5 913.6,47.5 915.2,47.5 916.8,47.5 918.4,47.5 920.0,47.5 921.6,47.5 923.2,47.5 924.8,47.5 926.4,47.5 928.0,47.5 929.6,47.5 931.2,47.5 932.8,47.5 934.4,47.5 936.0,47.5 937.7,47.5 939.3,47.5 940.9,47.5 942.5,47.5 944.1,47.5 945.7,47.5 947.3,47.5 948.9,47.5 950.5,47.5 952.1,47.5 953.7,47.5 955.3,47.5 956.9,47.5 958.5,47.5" fill="none" stroke="#008080" stroke-width="3.0" stroke-linejoin="round"/>
<polygon points="124.5,56.8 132.0,42.8 117.0,42.8" fill="#008080"/>
<polygon points="166.2,73.6 173.7,59.6 158.7,59.6" fill="#008080"/>
<polygon points="212.1,161.9 219.6,147.9 204.6,147.9" fill="#008080"/>
<polygon points="252.5,139.8 260.0,125.8 245.0,125.8" fill="#008080"/>
<polygon points="291.3,102.9 298.8,88.9 283.8,88.9" fill="#008080"/>
<polygon points="333.0,87.7 340.5,73.7 325.5,73.7" fill="#008080"/>
<polygon points="374.7,89.5 382.2,75.5 367.2,75.5" fill="#008080"/>
<polygon points="416.4,116.0 423.9,102.0 408.9,102.0" fill="#008080"/>
<polygon points="458.1,151.3 465.6,137.3 450.6,137.3" fill="#008080"/>
<polygon points="499.8,153.9 507.3,139.9 492.3,139.9" fill="#008080"/>
<polygon points="541.5,149.5 549.0,135.5 534.0,135.5" fill="#008080"/>
<polygon points="583.2,256.7 590.7,242.7 575.7,242.7" fill="#008080"/>
<polygon points="625.3,258.5 632.8,244.5 617.8,244.5" fill="#008080"/>
<polygon points="666.6,177.8 674.1,163.8 659.1,163.8" fill="#008080"/>
<polygon points="708.3,98.3 715.8,84.3 700.8,84.3" fill="#008080"/>
<polygon points="750.0,78.0 757.5,64.0 742.5,64.0" fill="#008080"/>
<polygon points="791.7,71.8 799.2,57.8 784.2,57.8" fill="#008080"/>
<polygon points="833.4,66.5 840.9,52.5 825.9,52.5" fill="#008080"/>
<polygon points="875.1,58.6 882.6,44.6 867.6,44.6" fill="#008080"/>
<polygon points="916.8,55.9 924.3,41.9 909.3,41.9" fill="#008080"/>
<polygon points="958.5,55.9 966.0,41.9 951.0,41.9" fill="#008080"/>
<polyline points="124.5,51.1 125.9,51.8 127.3,52.4 128.7,53.1 130.1,53.8 131.5,54.5 132.9,55.2 134.3,55.8 135.7,56.5 137.1,57.2 138.5,57.9 139.8,58.6 141.2,59.3 142.6,60.1 144.0,60.9 145.4,61.6 146.7,62.4 148.0,63.2 149.4,64.0 150.7,64.7 152.0,65.5 153.4,66.3 154.7,67.1 156.0,67.9 157.3,68.7 158.7,69.6 159.9,70.5 161.2,71.5 162.5,72.5 163.8,73.5 165.0,74.6 166.2,75.8 167.2,76.8 168.1,77.8 169.1,78.8 170.0,79.9 171.0,81.1 171.9,82.2 172.9,83.4 173.8,84.7 174.7,85.9 175.6,87.2 176.5,88.5 177.4,89.8 178.3,91.1 179.2,92.4 180.0,93.8 180.9,95.1 181.7,96.5 182.5,97.8 183.3,99.2 184.1,100.5 184.8,101.9 185.6,103.2 186.3,104.5 187.0,105.8 187.8,107.2 188.5,108.6 189.2,110.0 189.9,111.5 190.6,112.9 191.2,114.3 191.9,115.8 192.5,117.2 193.1,118.7 193.7,120.2 194.3,121.6 194.8,123.1 195.4,124.5 195.9,126.0 196.5,127.4 197.0,128.8 197.5,130.3 198.0,131.7 198.6,133.1 199.1,134.5 199.6,135.8 200.1,137.4 200.7,138.9 201.3,140.4 201.8,141.9 202.4,143.4 202.9,144.8 203.4,146.2 203.9,147.7 204.4,149.1 204.9,150.6 205.3,152.1 205.7,153.6 206.2,155.2 206.6,156.7 206.9,158.3 207.3,160.0 207.5,161.4 207.8,162.8 208.0,164.3 208.2,165.8 208.4,167.3 208.5,168.8 208.7,170.4 208.8,172.0 208.9,173.6 209.0,175.2 209.1,176.8 209.2,178.4 209.3,180.0 209.4,181.7 209.5,183.3 209.6,184.9 209.7,186.5 209.7,188.0 209.8,189.6 209.9,191.1 210.0,192.6 210.1,194.1 210.3,195.5 210.4,196.9 210.6,198.6 210.8,200.2 210.9,201.8 211.1,203.4 211.3,204.9 211.5,206.4 211.7,207.9 211.9,209.4 212.1,210.9 212.3,212.3 212.5,213.8 212.6,215.3 212.8,216.8 213.0,218.3 213.2,219.9 213.3,221.5 213.5,222.9 213.6,224.4 213.7,225.8 213.8,227.3 214.0,228.8 214.1,230.3 214.2,231.8 214.3,233.3 214.4,234.8 214.5,236.3 214.6,237.8 214.7,239.3 214.8,240.8 214.9,242.4 215.1,243.9 215.2,245.4 215.3,247.0 215.5,248.5 215.6,250.1 215.8,251.6 215.9,253.1 216.1,254.7 216.3,256.3 216.4,257.9 216.6,259.6 216.8,261.2 217.0,262.8 217.1,264.5 217.3,266.1 217.5,267.8 217.7,269.4 217.9,271.0 218.1,272.5 218.3,274.1 218.5,275.6 218.7,277.0 218.8,278.5 219.0,279.8 219.2,281.1 219.4,282.4 219.6,284.4 219.9,286.5 220.1,288.6 220.4,290.6 220.7,292.5 220.9,294.1 221.2,295.4 221.4,296.2 221.7,296.5 221.9,296.2 222.2,295.4 222.4,294.1 222.7,292.5 222.9,290.6 223.2,288.6 223.4,286.5 223.7,284.4 224.0,282.4 224.1,281.1 224.3,279.8 224.5,278.5 224.7,277.1 224.8,275.7 225.0,274.2 225.2,272.7 225.4,271.2 225.6,269.6 225.8,268.0 226.0,266.4 226.1,264.8 226.3,263.2 226.5,261.5 226.7,259.9 226.9,258.3 227.1,256.6 227.3,255.0 227.5,253.3 227.7,251.7 227.9,250.1 228.1,248.6 228.3,247.1 228.5,245.7 228.6,244.2 228.8,242.7 229.0,241.2 229.2,239.7 229.3,238.2 229.5,236.8 229.7,235.2 229.9,233.7 230.0,232.2 230.2,230.7 230.4,229.2 230.6,227.6 230.8,226.1 231.0,224.5 231.2,223.0 231.4,221.4 231.7,219.8 231.9,218.2 232.1,216.6 232.4,215.0 232.6,213.4 232.9,211.8 233.2,210.4 233.4,209.0 233.7,207.5 233.9,206.1 234.2,204.6 234.5,203.1 234.8,201.5 235.1,200.0 235.4,198.4 235.7,196.9 236.0,195.3 236.3,193.7 236.6,192.1 237.0,190.5 237.3,188.9 237.6,187.3 238.0,185.7 238.3,184.2 238.7,182.6 239.0,181.0 239.3,179.4 239.7,177.9 240.0,176.4 240.3,174.9 240.7,173.4 241.0,171.9 241.3,170.5 241.7,169.0 242.0,167.7 242.3,166.3 242.6,165.0 242.9,163.7 243.2,162.4 243.5,161.2 243.8,160.0 244.2,158.2 244.6,156.4 244.9,154.7 245.2,153.1 245.5,151.6 245.8,150.0 246.1,148.6 246.4,147.1 246.8,145.7 247.2,144.2 247.7,142.8 248.2,141.4 248.9,139.9 249.6,138.5 250.3,137.3 251.0,136.1 251.7,134.8 252.6,133.6 253.4,132.3 254.3,131.0 255.3,129.8 256.2,128.5 257.2,127.2 258.3,126.0 259.3,124.8 260.4,123.6 261.5,122.4 262.6,121.3 263.7,120.2 264.8,119.1 266.0,118.1 267.1,117.1 268.2,116.2 269.3,115.4 270.5,114.6 271.8,113.8 273.3,113.1 274.7,112.5 276.2,111.9 277.7,111.5 279.2,111.1 280.8,110.7 282.3,110.4 283.8,110.0 285.3,109.7 286.9,109.3 288.4,108.8 289.8,108.2 291.3,107.6 292.6,106.9 294.0,106.1 295.3,105.3 296.6,104.5 297.9,103.7 299.2,102.8 300.5,101.9 301.8,100.9 303.1,100.0 304.4,99.0 305.7,98.1 307.0,97.1 308.3,96.2 309.6,95.3 310.8,94.3 312.1,93.4 313.5,92.6 314.8,91.7 316.1,90.8 317.3,89.9 318.6,88.9 319.9,88.0 321.2,87.1 322.5,86.2 323.8,85.3 325.1,84.4 326.4,83.6 327.7,82.7 329.1,81.8 330.4,81.0 331.7,80.1 333.0,79.3 334.4,78.5 335.7,77.6 337.1,76.8 338.5,75.9 339.9,75.1 341.2,74.3 342.6,73.5 344.0,72.7 345.4,71.9 346.8,71.1 348.2,70.4 349.6,69.7 351.0,69.0 352.4,68.4 353.8,67.8 355.3,67.3 356.8,66.7 358.2,66.2 359.7,65.7 361.2,65.3 362.7,64.8 364.2,64.4 365.7,64.1 367.2,63.7 368.7,63.4 370.2,63.2 371.7,62.9 373.2,62.7 374.7,62.5 376.3,62.4 377.9,62.3 379.5,62.3 381.1,62.3 382.7,62.3 384.3,62.4 385.9,62.5 387.5,62.6 389.1,62.8 390.7,62.9 392.3,63.1 393.9,63.3 395.5,63.4 397.1,63.6 398.6,63.7 400.2,63.9 401.8,64.1 403.4,64.3 405.0,64.6 406.6,64.8 408.2,65.1 409.8,65.3 411.3,65.6 412.9,65.8 414.3,66.1 415.8,66.4 417.2,66.7 418.5,66.9 420.2,67.3 421.8,67.7 423.4,68.1 424.9,68.5 426.3,68.9 427.8,69.4 429.4,69.9 431.0,70.5 432.4,71.0 433.8,71.6 435.3,72.2 436.8,72.9 438.3,73.6 439.9,74.4 441.4,75.1 443.0,75.9 444.4,76.6 445.9,77.3 447.3,78.0 448.6,78.7 449.8,79.3 451.3,80.1 452.7,80.8 453.9,81.5 455.1,82.2 456.5,83.0 458.1,83.9 459.2,84.5 460.4,85.0 461.6,85.6 463.0,86.2 464.4,86.8 465.9,87.4 467.4,88.1 468.9,88.8 470.4,89.5 471.9,90.2 473.4,91.0 474.9,91.9 476.3,92.8 477.6,93.7 478.9,94.7 480.0,95.8 481.0,97.0 481.8,98.0 482.6,99.1 483.3,100.3 484.0,101.5 484.6,102.8 485.1,104.1 485.6,105.5 486.1,106.9 486.6,108.3 487.0,109.8 487.4,111.3 487.8,112.8 488.2,114.3 488.6,115.9 488.9,117.4 489.3,119.0 489.6,120.6 490.0,122.2 490.3,123.7 490.7,125.3 491.1,126.9 491.5,128.4 491.8,129.9 492.2,131.4 492.5,133.1 492.8,134.8 493.1,136.6 493.4,138.5 493.6,140.4 493.9,142.3 494.2,144.3 494.4,146.2 494.7,148.2 494.9,150.1 495.2,152.0 495.4,153.9 495.7,155.7 495.9,157.5 496.2,159.2 496.5,160.8 496.8,162.3 497.1,163.7 497.4,164.9 497.7,166.1 498.1,167.1 498.5,167.9 498.9,168.6 499.3,169.1 499.8,169.4 501.3,169.4 502.8,168.5 504.5,167.0 506.1,165.3 506.8,164.4 507.5,163.4 508.3,162.2 509.0,160.9 509.7,159.6 510.5,158.1 511.2,156.7 511.9,155.1 512.7,153.6 513.4,152.1 514.2,150.6 514.9,149.2 515.7,147.9 516.5,146.6 517.4,145.2 518.3,143.7 519.3,142.3 520.2,140.8 521.2,139.4 522.1,138.0 523.1,136.7 524.1,135.5 525.0,134.4 526.0,133.5 526.9,132.8 528.5,131.9 530.0,131.3 531.5,131.0 533.2,131.2 534.1,131.6 535.2,132.1 536.2,132.9 537.3,133.7 538.4,134.7 539.6,135.9 540.7,137.1 541.8,138.5 542.8,139.9 543.8,141.4 544.8,143.0 545.7,144.7 546.2,145.7 546.6,146.7 547.1,147.9 547.5,149.1 547.9,150.4 548.3,151.8 548.7,153.1 549.1,154.6 549.4,156.1 549.8,157.6 550.1,159.2 550.4,160.8 550.7,162.4 551.0,164.1 551.3,165.8 551.5,167.5 551.8,169.2 552.1,170.9 552.3,172.6 552.6,174.3 552.8,176.1 553.0,177.8 553.3,179.5 553.5,181.2 553.7,182.9 554.0,184.5 554.2,186.1 554.4,187.7 554.7,189.3 554.9,190.8 555.1,192.3 555.4,193.7 555.6,195.1 555.8,196.4 556.1,197.6 556.5,199.4 556.8,201.2 557.1,202.9 557.4,204.6 557.6,206.3 557.9,207.9 558.1,209.5 558.4,211.0 558.7,212.5 559.0,214.0 559.3,215.5 559.6,216.9 560.0,218.3 560.5,219.7 561.0,221.0 561.5,222.4 562.2,223.9 563.0,225.4 563.7,227.0 564.6,228.5 565.4,229.9 566.4,231.3 567.3,232.7 568.3,234.0 569.4,235.2 570.4,236.3 571.6,237.3 572.8,238.2 574.1,239.0 575.5,239.6 577.1,240.1 578.7,240.4 580.3,240.6 581.9,240.9 583.6,241.1 585.2,241.4 586.7,241.8 588.1,242.3 589.5,243.0 590.7,243.9 592.0,244.9 593.1,246.0 594.2,247.2 595.3,248.4 596.3,249.7 597.2,251.0 598.2,252.3 599.0,253.7 599.9,255.0 600.7,256.4 601.4,257.9 602.1,259.4 602.8,260.9 603.4,262.4 604.0,264.0 604.5,265.6 605.1,267.1 605.6,268.6 606.1,270.0 606.7,271.6 607.2,273.0 607.7,274.5 608.2,275.9 608.7,277.3 609.2,278.8 609.7,280.4 610.3,282.0 610.8,283.3 611.2,284.7 611.7,286.2 612.2,287.7 612.7,289.3 613.2,290.9 613.7,292.5 614.3,294.2 614.8,295.7 615.4,297.3 616.0,298.7 616.6,300.1 617.3,301.4 618.0,302.6 618.6,303.6 619.9,305.1 621.1,306.6 622.5,307.9 623.9,308.9 625.2,309.5 626.6,309.8 627.9,309.5 629.2,308.8 630.6,307.7 631.9,306.4 633.1,305.0 634.3,303.6 635.2,302.5 636.0,301.2 636.8,299.9 637.5,298.5 638.3,297.0 639.0,295.6 639.6,294.1 640.3,292.6 641.0,291.2 641.7,289.7 642.3,288.2 643.0,286.7 643.6,285.2 644.2,283.7 644.8,282.1 645.3,280.5 645.8,278.9 646.1,277.4 646.4,275.9 646.7,274.4 646.9,272.8 647.1,271.3 647.3,269.7 647.5,268.0 647.7,266.4 648.0,264.7 648.2,263.0 648.4,261.6 648.7,260.1 648.9,258.6 649.2,257.1 649.5,255.6 649.7,254.0 650.0,252.4 650.3,250.9 650.5,249.3 650.8,247.7 651.1,246.1 651.3,244.6 651.6,243.0 651.8,241.5 652.0,240.0 652.2,238.4 652.4,236.9 652.6,235.3 652.8,233.8 653.0,232.2 653.1,230.7 653.3,229.2 653.5,227.7 653.6,226.2 653.8,224.6 653.9,223.1 654.1,221.6 654.3,220.1 654.5,218.5 654.7,217.0 654.9,215.6 655.0,214.1 655.2,212.6 655.4,211.2 655.6,209.7 655.8,208.2 656.0,206.6 656.2,205.0 656.4,203.4 656.6,201.7 656.8,199.9 656.9,198.6 657.1,197.3 657.2,196.0 657.4,194.6 657.5,193.2 657.6,191.8 657.8,190.3 657.9,188.8 658.1,187.3 658.2,185.8 658.4,184.3 658.5,182.7 658.6,181.2 658.8,179.6 658.9,178.0 659.1,176.4 659.2,174.8 659.4,173.1 659.6,171.5 659.7,169.9 659.9,168.2 660.0,166.6 660.2,164.9 660.4,163.3 660.5,161.7 660.7,160.0 660.8,158.6 661.0,157.2 661.1,155.7 661.3,154.2 661.4,152.6 661.5,151.1 661.7,149.5 661.8,147.9 661.9,146.3 662.1,144.6 662.2,143.0 662.4,141.4 662.5,139.7 662.6,138.0 662.8,136.4 662.9,134.7 663.1,133.1 663.2,131.5 663.4,129.8 663.5,128.2 663.7,126.6 663.9,125.1 664.0,123.5 664.2,122.0 664.4,120.5 664.6,119.0 664.8,117.6 665.0,116.2 665.2,114.8 665.4,113.5 665.6,112.2 665.9,111.0 666.1,109.8 666.3,108.6 666.6,107.6 667.1,105.7 667.6,104.0 668.1,102.4 668.6,101.0 669.2,99.5 669.7,98.2 670.3,96.9 670.9,95.6 671.5,94.3 672.2,93.0 672.9,91.7 673.6,90.3 674.3,88.8 675.1,87.5 675.9,86.1 676.7,84.7 677.6,83.4 678.4,82.1 679.3,80.8 680.2,79.6 681.2,78.4 682.2,77.2 683.3,76.1 684.4,74.9 685.5,73.8 686.6,72.8 687.8,71.8 689.0,70.7 690.3,69.7 691.6,68.7 692.8,67.8 694.0,67.0 695.2,66.1 696.5,65.3 697.8,64.4 699.1,63.6 700.5,62.8 701.9,62.0 703.4,61.2 704.9,60.5 706.6,59.7 708.3,59.0 709.5,58.6 710.7,58.1 711.9,57.7 713.2,57.3 714.5,56.9 715.9,56.5 717.3,56.1 718.7,55.7 720.2,55.4 721.7,55.0 723.2,54.7 724.7,54.3 726.3,54.0 727.9,53.6 729.5,53.3 731.1,53.0 732.7,52.7 734.3,52.3 735.9,52.0 737.5,51.7 739.1,51.4 740.7,51.1 742.3,50.8 743.9,50.5 745.4,50.2 747.0,49.9 748.5,49.6 750.0,49.3 751.5,49.0 753.0,48.7 754.5,48.4 755.9,48.1 757.4,47.8 758.9,47.6 760.4,47.3 761.9,47.0 763.4,46.7 764.9,46.5 766.4,46.2 767.9,46.0 769.3,45.7 770.8,45.5 772.3,45.2 773.8,45.0 775.3,44.7 776.8,44.5 778.3,44.2 779.8,44.0 781.3,43.7 782.8,43.5 784.2,43.2 785.7,43.0 787.2,42.8 788.7,42.5 790.2,42.3 791.7,42.0 793.2,41.8 794.7,41.6 796.2,41.3 797.7,41.1 799.1,40.9 800.6,40.6 802.1,40.4 803.6,40.2 805.1,39.9 806.6,39.7 808.1,39.5 809.6,39.3 811.0,39.0 812.5,38.8 814.0,38.6 815.5,38.4 817.0,38.1 818.5,37.9 820.0,37.7 821.5,37.5 823.0,37.3 824.5,37.1 825.9,36.9 827.4,36.7 828.9,36.5 830.4,36.3 831.9,36.1 833.4,35.9 834.9,35.7 836.5,35.5 838.0,35.3 839.6,35.0 841.1,34.8 842.7,34.6 844.2,34.4 845.7,34.2 847.3,34.0 848.8,33.8 850.4,33.6 851.9,33.4 853.5,33.2 855.0,33.0 856.6,32.8 858.1,32.7 859.6,32.5 861.2,32.3 862.7,32.2 864.3,32.0 865.8,31.8 867.4,31.7 868.9,31.6 870.5,31.4 872.0,31.3 873.6,31.2 875.1,31.1 876.6,31.0 878.2,30.9 879.7,30.9 881.3,30.8 882.8,30.7 884.4,30.7 885.9,30.7 887.4,30.6 889.0,30.6 890.5,30.6 892.1,30.6 893.6,30.6 895.2,30.6 896.7,30.6 898.3,30.6 899.8,30.6 901.3,30.6 902.9,30.6 904.4,30.6 906.0,30.6 907.5,30.6 909.1,30.6 910.6,30.6 912.2,30.6 913.7,30.6 915.3,30.6 916.8,30.6 918.3,30.5 919.9,30.5 921.4,30.5 923.0,30.5 924.5,30.4 926.1,30.4 927.6,30.4 929.2,30.4 930.7,30.3 932.2,30.3 933.8,30.3 935.3,30.3 936.9,30.2 938.4,30.2 940.0,30.2 941.5,30.2 943.1,30.1 944.6,30.1 946.1,30.1 947.7,30.0 949.2,30.0 950.8,30.0 952.3,30.0 953.9,29.9 955.4,29.9 957.0,29.9 958.5,29.9" fill="none" stroke="#ff80ff" stroke-width="3.3" stroke-linejoin="round"/>
<polygon points="124.5,42.8 132.0,51.1 124.5,59.3 117.0,51.1" fill="#ff80ff"/>
<polygon points="166.2,67.5 173.7,75.8 166.2,84.0 158.7,75.8" fill="#ff80ff"/>
<polygon points="207.9,175.3 215.4,183.5 207.9,191.8 200.4,183.5" fill="#ff80ff"/>
<polygon points="293.4,101.1 300.9,109.3 293.4,117.6 285.9,109.3" fill="#ff80ff"/>
<polygon points="333.0,71.1 340.5,79.3 333.0,87.6 325.5,79.3" fill="#ff80ff"/>
<polygon points="376.0,54.3 383.5,62.5 376.0,70.8 368.5,62.5" fill="#ff80ff"/>
<polygon points="418.5,58.7 426.0,66.9 418.5,75.2 411.0,66.9" fill="#ff80ff"/>
<polygon points="458.7,75.7 466.2,83.9 458.7,92.2 451.2,83.9" fill="#ff80ff"/>
<polygon points="481.0,88.7 488.5,97.0 481.0,105.2 473.5,97.0" fill="#ff80ff"/>
<polygon points="492.3,120.2 499.8,128.4 492.3,136.7 484.8,128.4" fill="#ff80ff"/>
<polygon points="499.8,166.4 507.3,174.7 499.8,182.9 492.3,174.7" fill="#ff80ff"/>
<polygon points="541.5,112.6 549.0,120.8 541.5,129.1 534.0,120.8" fill="#ff80ff"/>
<polygon points="583.2,226.5 590.7,234.7 583.2,243.0 575.7,234.7" fill="#ff80ff"/>
<polygon points="624.9,314.8 632.4,323.0 624.9,331.3 617.4,323.0" fill="#ff80ff"/>
<polygon points="647.8,219.4 655.3,227.7 647.8,235.9 640.3,227.7" fill="#ff80ff"/>
<polygon points="653.3,173.5 660.8,181.7 653.3,190.0 645.8,181.7" fill="#ff80ff"/>
<polygon points="666.6,85.2 674.1,93.4 666.6,101.7 659.1,93.4" fill="#ff80ff"/>
<polygon points="708.3,49.9 715.8,58.1 708.3,66.4 700.8,58.1" fill="#ff80ff"/>
<polygon points="750.0,41.0 757.5,49.3 750.0,57.5 742.5,49.3" fill="#ff80ff"/>
<polygon points="791.7,33.8 799.2,42.0 791.7,50.3 784.2,42.0" fill="#ff80ff"/>
<polygon points="833.4,27.6 840.9,35.9 833.4,44.1 825.9,35.9" fill="#ff80ff"/>
<polygon points="875.1,22.8 882.6,31.1 875.1,39.3 867.6,31.1" fill="#ff80ff"/>
<polygon points="916.8,22.3 924.3,30.6 916.8,38.8 909.3,30.6" fill="#ff80ff"/>
<polygon points="958.5,21.6 966.0,29.9 958.5,38.1 951.0,29.9" fill="#ff80ff"/>
<polyline points="124.5,45.8 126.0,46.0 127.5,46.1 129.0,46.2 130.5,46.4 132.0,46.5 133.5,46.6 135.0,46.7 136.5,46.9 138.0,47.1 139.5,47.3 141.0,47.5 142.4,47.9 143.9,48.3 145.4,48.8 146.7,49.3 148.1,49.8 149.4,50.4 150.7,51.1 152.1,51.8 153.4,52.5 154.7,53.3 156.0,54.1 157.3,54.9 158.6,55.8 159.9,56.7 161.2,57.6 162.5,58.6 163.7,59.6 165.0,60.6 166.2,61.7 167.3,62.6 168.3,63.5 169.4,64.5 170.4,65.5 171.5,66.5 172.5,67.5 173.6,68.5 174.6,69.6 175.6,70.7 176.6,71.8 177.6,72.9 178.6,74.1 179.6,75.3 180.6,76.6 181.5,77.9 182.5,79.2 183.4,80.5 184.3,81.9 185.3,83.4 186.2,84.8 187.0,86.4 187.7,87.5 188.3,88.6 188.9,89.8 189.5,91.1 190.1,92.4 190.7,93.7 191.3,95.1 191.8,96.5 192.4,98.0 193.0,99.5 193.6,101.0 194.2,102.5 194.8,104.1 195.3,105.7 195.9,107.3 196.5,109.0 197.0,110.6 197.6,112.3 198.1,113.9 198.7,115.6 199.2,117.3 199.7,118.9 200.2,120.6 200.8,122.2 201.3,123.9 201.8,125.5 202.2,127.1 202.7,128.7 203.2,130.3 203.6,131.8 204.1,133.3 204.5,134.8 205.0,136.3 205.4,137.7 205.8,139.0 206.2,140.4 206.6,141.6 207.0,142.9 207.3,144.1 207.7,145.2 208.0,146.2 208.3,147.3 208.6,148.2 208.9,149.1 209.7,151.0 210.3,152.6 210.8,153.9 211.3,155.2 211.8,156.5 212.2,158.1 212.7,160.0 212.9,161.0 213.1,162.1 213.3,163.2 213.5,164.4 213.7,165.6 213.9,167.0 214.1,168.3 214.3,169.7 214.5,171.2 214.6,172.7 214.8,174.2 215.0,175.8 215.2,177.4 215.3,179.0 215.5,180.7 215.7,182.4 215.8,184.1 216.0,185.8 216.2,187.5 216.3,189.2 216.5,190.9 216.6,192.7 216.8,194.4 216.9,196.1 217.1,197.8 217.2,199.4 217.4,201.1 217.5,202.7 217.6,204.3 217.8,205.9 217.9,207.4 218.1,208.9 218.2,210.4 218.3,211.8 218.5,213.4 218.6,215.2 218.8,216.9 219.0,218.6 219.1,220.3 219.3,222.0 219.4,223.8 219.5,225.5 219.7,227.2 219.8,228.8 220.0,230.5 220.1,232.1 220.2,233.7 220.4,235.3 220.5,236.8 220.6,238.3 220.7,239.7 220.9,241.1 221.0,242.4 221.1,243.7 221.2,244.9 221.3,246.0 221.5,247.1 221.7,249.5 222.0,251.9 222.2,253.9 222.4,255.4 222.7,255.9 223.0,255.4 223.2,253.9 223.5,251.9 223.8,249.5 224.2,247.1 224.3,246.0 224.5,244.9 224.6,243.7 224.7,242.4 224.9,241.1 225.0,239.7 225.2,238.3 225.4,236.8 225.5,235.3 225.7,233.7 225.8,232.1 226.0,230.5 226.2,228.8 226.4,227.1 226.6,225.4 226.8,223.7 227.0,222.0 227.2,220.2 227.4,218.5 227.7,216.8 227.9,215.1 228.2,213.3 228.5,211.7 228.8,210.0 229.0,208.6 229.3,207.2 229.5,205.8 229.8,204.4 230.1,202.9 230.4,201.5 230.8,200.0 231.1,198.5 231.4,197.0 231.8,195.5 232.1,194.0 232.5,192.5 232.9,191.0 233.2,189.5 233.6,188.0 234.0,186.4 234.4,184.9 234.8,183.4 235.1,181.8 235.5,180.3 235.9,178.8 236.3,177.3 236.6,175.8 237.0,174.3 237.4,172.8 237.7,171.3 238.1,169.9 238.4,168.4 238.7,167.0 239.0,165.5 239.4,164.1 239.7,162.7 239.9,161.4 240.2,160.0 240.5,158.4 240.8,156.7 241.1,154.9 241.4,153.2 241.6,151.5 241.9,149.7 242.1,148.0 242.4,146.2 242.6,144.5 242.8,142.8 243.0,141.1 243.2,139.5 243.5,137.9 243.7,136.3 243.9,134.8 244.1,133.3 244.4,131.9 244.6,130.6 244.9,129.3 245.1,128.2 245.4,127.1 245.7,126.1 246.1,125.2 246.8,123.6 247.5,122.4 248.4,121.3 249.6,119.9 250.3,119.1 251.0,118.2 251.9,117.2 252.8,116.2 253.7,115.1 254.8,113.9 255.8,112.7 257.0,111.5 258.1,110.2 259.3,109.0 260.6,107.7 261.8,106.5 263.1,105.2 264.3,104.0 265.6,102.8 266.8,101.7 268.1,100.7 269.3,99.7 270.5,98.7 271.8,97.8 273.1,96.9 274.5,96.0 275.9,95.2 277.2,94.4 278.6,93.7 280.0,93.0 281.5,92.3 282.9,91.6 284.3,91.0 285.7,90.3 287.1,89.6 288.5,88.9 289.9,88.2 291.3,87.4 292.7,86.6 294.1,85.8 295.5,85.0 296.8,84.1 298.2,83.2 299.6,82.3 301.0,81.5 302.3,80.6 303.7,79.8 305.1,79.0 306.5,78.2 307.9,77.5 309.3,76.9 310.7,76.3 312.1,75.8 313.7,75.3 315.3,74.9 316.9,74.6 318.5,74.4 320.1,74.2 321.7,74.0 323.3,73.9 324.9,73.8 326.5,73.7 328.2,73.6 329.8,73.6 331.4,73.5 333.0,73.5 334.6,73.4 336.2,73.4 337.8,73.3 339.4,73.3 341.0,73.3 342.6,73.3 344.2,73.4 345.8,73.4 347.4,73.5 349.1,73.6 350.7,73.7 352.3,73.8 353.8,74.0 355.3,74.2 356.8,74.3 358.4,74.5 359.9,74.7 361.4,74.9 362.9,75.2 364.4,75.4 365.9,75.7 367.3,76.0 368.8,76.3 370.3,76.7 371.8,77.1 373.2,77.6 374.7,78.1 376.1,78.6 377.6,79.2 379.0,79.8 380.4,80.4 381.8,81.0 383.2,81.7 384.6,82.4 386.0,83.2 387.4,84.0 388.8,84.8 390.2,85.6 391.5,86.5 392.9,87.4 394.2,88.4 395.5,89.4 396.7,90.2 397.7,91.2 398.8,92.1 399.9,93.1 401.0,94.1 402.0,95.2 403.0,96.3 404.1,97.4 405.1,98.5 406.1,99.7 407.2,100.8 408.2,102.0 409.2,103.1 410.2,104.3 411.2,105.5 412.3,106.6 413.3,107.8 414.3,108.9 415.4,110.0 416.4,111.1 417.5,112.2 418.6,113.4 419.7,114.5 420.8,115.6 421.9,116.8 423.0,117.9 424.0,119.0 425.1,120.2 426.2,121.3 427.3,122.4 428.4,123.5 429.5,124.7 430.6,125.8 431.7,126.9 432.8,128.0 433.9,129.1 435.0,130.1 436.1,131.2 437.2,132.3 438.4,133.4 439.5,134.5 440.7,135.6 441.8,136.7 442.9,137.8 444.1,138.9 445.2,139.9 446.4,141.0 447.5,142.1 448.7,143.1 449.8,144.2 451.0,145.2 452.2,146.2 453.3,147.2 454.5,148.1 455.7,149.1 456.9,150.0 458.1,150.8 459.4,151.8 460.8,152.8 462.2,153.9 463.6,154.9 464.9,155.9 466.3,157.0 467.7,157.9 469.1,158.9 470.6,159.7 472.0,160.5 473.4,161.1 474.8,161.6 476.2,162.0 477.6,162.3 479.0,162.3 480.3,162.2 481.6,161.9 482.9,161.5 484.2,160.9 485.5,160.2 486.8,159.4 488.1,158.5 489.4,157.5 490.7,156.5 492.0,155.5 493.3,154.4 494.6,153.4 495.9,152.4 497.2,151.4 498.5,150.4 499.8,149.6 501.1,148.7 502.4,147.8 503.7,146.8 505.0,145.8 506.3,144.7 507.6,143.6 508.9,142.5 510.2,141.5 511.5,140.5 512.8,139.6 514.1,138.7 515.4,138.0 516.7,137.4 518.0,136.9 519.3,136.5 520.7,136.4 522.0,136.3 523.5,136.4 524.9,136.7 526.4,137.0 527.9,137.5 529.5,138.0 531.0,138.6 532.4,139.4 533.9,140.2 535.3,141.1 536.7,142.0 538.0,143.0 539.2,144.1 540.4,145.2 541.5,146.4 542.3,147.4 543.0,148.5 543.7,149.6 544.3,150.8 544.9,152.1 545.5,153.4 546.0,154.8 546.4,156.3 546.9,157.8 547.3,159.3 547.7,160.9 548.1,162.4 548.5,164.0 548.8,165.7 549.2,167.3 549.5,168.9 549.9,170.5 550.2,172.1 550.6,173.7 550.9,175.3 551.3,176.8 551.7,178.3 552.1,179.8 552.6,181.2 553.0,182.7 553.5,184.3 554.0,185.8 554.4,187.3 554.8,188.9 555.2,190.4 555.7,191.9 556.1,193.4 556.5,194.9 556.9,196.3 557.4,197.8 557.8,199.3 558.3,200.8 558.8,202.2 559.3,203.7 559.8,205.1 560.4,206.6 561.0,208.0 561.7,209.5 562.3,210.9 563.0,212.2 563.7,213.7 564.5,215.2 565.2,216.7 566.0,218.3 566.8,219.9 567.6,221.5 568.4,223.2 569.3,224.8 570.2,226.4 571.1,228.0 572.0,229.5 572.9,230.9 573.8,232.3 574.8,233.6 575.7,234.9 576.7,236.0 577.7,236.9 578.7,237.8 579.6,238.5 580.6,239.1 581.6,239.5 582.6,239.7 583.6,239.6 584.7,239.3 585.8,238.7 586.9,238.0 588.1,237.0 589.3,235.8 590.5,234.5 591.7,233.1 592.9,231.7 594.1,230.2 595.3,228.6 596.5,227.1 597.7,225.6 598.8,224.2 600.0,222.8 601.1,221.6 602.2,220.6 603.2,219.7 604.2,219.0 605.2,218.6 606.1,218.5 607.5,218.7 608.8,219.2 610.1,220.0 611.3,221.1 612.4,222.3 613.5,223.7 614.6,225.0 615.6,226.4 616.6,227.7 617.5,228.9 618.3,230.1 619.1,231.4 619.9,232.8 620.5,234.2 621.2,235.6 621.8,237.0 622.3,238.5 622.8,240.0 623.2,241.4 623.5,242.9 623.7,244.4 623.8,245.9 624.0,247.5 624.1,249.1 624.2,250.7 624.3,252.3 624.4,253.9 624.6,255.4 624.9,257.0 625.2,258.5 625.6,260.0 626.0,261.5 626.5,263.0 626.9,264.6 627.4,266.1 627.9,267.6 628.3,269.1 628.8,270.6 629.2,272.1 629.6,273.6 630.0,275.2 630.3,276.7 630.6,278.2 630.9,279.8 631.2,281.3 631.5,282.9 631.8,284.4 632.1,286.1 632.5,287.7 633.0,289.5 633.4,290.9 633.9,292.4 634.4,294.1 634.9,296.0 635.4,297.9 636.0,299.8 636.6,301.8 637.2,303.7 637.8,305.7 638.4,307.5 639.0,309.3 639.6,310.9 640.2,312.3 640.8,313.5 641.4,314.6 642.0,315.3 642.5,315.8 643.0,316.0 643.5,315.8 644.0,315.2 644.5,314.3 645.0,313.2 645.5,311.8 645.9,310.2 646.4,308.5 646.8,306.6 647.3,304.7 647.7,302.7 648.2,300.6 648.6,298.6 649.0,296.6 649.5,294.7 649.9,293.0 650.3,291.6 650.7,290.2 651.0,288.8 651.4,287.4 651.8,286.0 652.2,284.5 652.6,283.1 653.0,281.6 653.4,280.1 653.7,278.6 654.1,277.1 654.5,275.6 654.9,274.0 655.2,272.5 655.6,271.0 655.9,269.4 656.2,267.8 656.6,266.3 656.9,264.7 657.2,263.1 657.4,261.6 657.7,260.0 657.9,258.5 658.1,257.0 658.3,255.5 658.5,253.9 658.6,252.4 658.8,250.8 658.9,249.2 659.0,247.5 659.2,245.9 659.3,244.3 659.4,242.7 659.5,241.0 659.6,239.4 659.6,237.8 659.7,236.2 659.8,234.6 659.9,233.0 660.0,231.5 660.1,229.9 660.2,228.4 660.3,226.9 660.5,225.5 660.6,224.1 660.8,222.7 660.9,221.4 661.1,220.1 661.4,218.3 661.7,216.6 662.0,215.1 662.3,213.6 662.6,212.1 663.0,210.7 663.3,209.3 663.6,207.9 664.0,206.4 664.3,204.9 664.6,203.3 664.9,201.7 665.2,199.9 665.4,198.6 665.5,197.3 665.7,195.9 665.8,194.5 666.0,193.0 666.1,191.5 666.2,190.0 666.3,188.5 666.4,186.9 666.5,185.3 666.6,183.7 666.7,182.1 666.8,180.5 666.9,178.9 667.0,177.2 667.1,175.6 667.2,174.0 667.4,172.4 667.5,170.7 667.7,169.1 667.8,167.6 668.0,166.0 668.2,164.5 668.5,163.0 668.7,161.5 669.0,160.0 669.3,158.5 669.7,156.9 670.0,155.4 670.4,153.8 670.8,152.3 671.3,150.8 671.7,149.3 672.1,147.8 672.6,146.3 673.1,144.8 673.6,143.3 674.0,141.8 674.5,140.4 675.0,138.9 675.5,137.5 676.0,136.1 676.5,134.8 677.0,133.4 677.5,132.1 678.0,130.8 678.5,129.5 679.0,128.2 679.6,126.6 680.2,125.0 680.8,123.5 681.4,122.0 682.0,120.5 682.6,119.1 683.2,117.7 683.9,116.3 684.5,115.0 685.2,113.6 685.9,112.3 686.7,111.0 687.5,109.7 688.3,108.4 689.2,107.2 690.1,106.0 691.1,104.8 692.1,103.6 693.1,102.4 694.2,101.3 695.2,100.1 696.2,99.0 697.2,97.9 698.2,96.8 699.1,95.7 700.0,94.7 701.0,93.4 701.9,92.1 702.7,90.9 703.5,89.7 704.3,88.5 705.1,87.3 706.1,86.2 707.1,85.0 708.3,83.9 709.4,83.0 710.5,82.2 711.7,81.3 713.0,80.4 714.4,79.6 715.8,78.8 717.2,78.0 718.7,77.2 720.2,76.4 721.7,75.6 723.2,74.9 724.7,74.2 726.2,73.5 727.7,72.9 729.2,72.2 730.6,71.6 732.1,71.1 733.6,70.6 735.0,70.0 736.5,69.6 738.0,69.1 739.5,68.7 741.0,68.3 742.5,67.9 744.0,67.5 745.5,67.1 747.0,66.8 748.5,66.4 750.0,66.1 751.5,65.7 753.0,65.4 754.4,65.2 755.9,64.9 757.4,64.7 758.9,64.5 760.4,64.2 761.9,64.0 763.4,63.8 764.9,63.6 766.4,63.4 767.9,63.2 769.4,63.0 770.8,62.7 772.3,62.5 773.8,62.2 775.3,61.9 776.8,61.6 778.3,61.4 779.8,61.1 781.3,60.8 782.8,60.5 784.2,60.3 785.7,60.0 787.2,59.7 788.7,59.5 790.2,59.2 791.7,59.0 793.2,58.8 794.7,58.5 796.2,58.3 797.7,58.1 799.1,57.9 800.6,57.7 802.1,57.4 803.6,57.2 805.1,57.0 806.6,56.9 808.1,56.7 809.6,56.5 811.1,56.3 812.5,56.2 814.2,56.0 815.8,55.9 817.4,55.8 819.0,55.7 820.6,55.7 822.2,55.6 823.8,55.5 825.4,55.5 827.0,55.4 828.6,55.3 830.2,55.1 831.8,55.0 833.4,54.8 834.9,54.5 836.4,54.3 837.9,54.0 839.4,53.7 840.9,53.3 842.3,53.0 843.8,52.6 845.3,52.3 846.8,51.9 848.3,51.5 849.8,51.2 851.3,50.8 852.8,50.5 854.2,50.2 855.7,49.9 857.2,49.5 858.7,49.2 860.2,48.9 861.7,48.6 863.2,48.3 864.7,48.0 866.2,47.7 867.6,47.4 869.1,47.1 870.6,46.8 872.1,46.6 873.6,46.3 875.1,46.1 876.7,45.9 878.3,45.7 879.9,45.5 881.5,45.3 883.1,45.1 884.7,44.9 886.3,44.8 887.9,44.6 889.5,44.5 891.1,44.3 892.7,44.2 894.3,44.1 896.0,44.0 897.6,43.9 899.2,43.8 900.8,43.7 902.4,43.7 904.0,43.6 905.6,43.6 907.2,43.6 908.8,43.6 910.4,43.5 912.0,43.5 913.6,43.5 915.2,43.5 916.8,43.5 918.4,43.4 920.0,43.4 921.6,43.4 923.2,43.4 924.8,43.4 926.4,43.4 928.0,43.4 929.6,43.4 931.2,43.4 932.8,43.4 934.4,43.4 936.0,43.4 937.7,43.5 939.3,43.5 940.9,43.5 942.5,43.5 944.1,43.6 945.7,43.6 947.3,43.7 948.9,43.7 950.5,43.8 952.1,43.8 953.7,43.9 955.3,43.9 956.9,43.9 958.5,44.0" fill="none" stroke="#404040" stroke-width="3.0" stroke-linejoin="round"/>
<polygon points="118.5,45.8 130.5,38.5 130.5,53.0" fill="#404040"/>
<polygon points="139.4,48.8 151.4,41.5 151.4,56.0" fill="#404040"/>
<polygon points="160.2,61.6 172.2,54.4 172.2,68.9" fill="#404040"/>
<polygon points="181.0,86.4 193.0,79.1 193.0,93.6" fill="#404040"/>
<polygon points="202.9,149.1 214.9,141.8 214.9,156.3" fill="#404040"/>
<polygon points="222.8,210.0 234.8,202.7 234.8,217.2" fill="#404040"/>
<polygon points="243.6,124.5 255.6,117.3 255.6,131.8" fill="#404040"/>
<polygon points="264.5,98.7 276.5,91.5 276.5,106.0" fill="#404040"/>
<polygon points="285.3,87.4 297.3,80.2 297.3,94.7" fill="#404040"/>
<polygon points="306.1,75.8 318.1,68.5 318.1,83.0" fill="#404040"/>
<polygon points="327.0,73.5 339.0,66.2 339.0,80.7" fill="#404040"/>
<polygon points="347.8,74.0 359.8,66.8 359.8,81.3" fill="#404040"/>
<polygon points="368.7,78.1 380.7,70.8 380.7,85.3" fill="#404040"/>
<polygon points="389.5,89.4 401.5,82.1 401.5,96.6" fill="#404040"/>
<polygon points="410.4,111.1 422.4,103.8 422.4,118.3" fill="#404040"/>
<polygon points="431.2,132.3 443.2,125.0 443.2,139.5" fill="#404040"/>
<polygon points="452.1,150.8 464.1,143.6 464.1,158.1" fill="#404040"/>
<polygon points="473.0,168.7 485.0,161.4 485.0,175.9" fill="#404040"/>
<polygon points="493.8,149.6 505.8,142.3 505.8,156.8" fill="#404040"/>
<polygon points="514.7,136.4 526.7,129.1 526.7,143.6" fill="#404040"/>
<polygon points="535.5,143.4 547.5,136.2 547.5,150.7" fill="#404040"/>
<polygon points="554.3,208.9 566.3,201.7 566.3,216.2" fill="#404040"/>
<polygon points="577.2,259.4 589.2,252.2 589.2,266.7" fill="#404040"/>
<polygon points="616.8,236.0 628.8,228.7 628.8,243.2" fill="#404040"/>
<polygon points="640.4,374.2 652.4,367.0 652.4,381.5" fill="#404040"/>
<polygon points="662.7,149.4 674.7,142.2 674.7,156.7" fill="#404040"/>
<polygon points="681.5,110.0 693.5,102.8 693.5,117.3" fill="#404040"/>
<polygon points="702.3,83.9 714.3,76.7 714.3,91.2" fill="#404040"/>
<polygon points="723.2,72.2 735.2,65.0 735.2,79.5" fill="#404040"/>
<polygon points="744.0,66.1 756.0,58.8 756.0,73.3" fill="#404040"/>
<polygon points="764.8,62.7 776.8,55.5 776.8,70.0" fill="#404040"/>
<polygon points="785.7,59.0 797.7,51.8 797.7,66.3" fill="#404040"/>
<polygon points="806.5,56.2 818.5,48.9 818.5,63.4" fill="#404040"/>
<polygon points="827.4,54.8 839.4,47.5 839.4,62.0" fill="#404040"/>
<polygon points="848.2,50.2 860.2,42.9 860.2,57.4" fill="#404040"/>
<polygon points="869.1,46.1 881.1,38.9 881.1,53.4" fill="#404040"/>
<polygon points="890.0,44.0 902.0,36.7 902.0,51.2" fill="#404040"/>
<polygon points="910.8,43.5 922.8,36.2 922.8,50.7" fill="#404040"/>
<polygon points="931.7,43.5 943.7,36.2 943.7,50.7" fill="#404040"/>
<polygon points="952.5,44.0 964.5,36.7 964.5,51.2" fill="#404040"/>
</g>
<text x="107" y="27.5" text-anchor="end" class="tk">0</text><text x="107" y="115.8" text-anchor="end" class="tk">-5</text><text x="107" y="204.1" text-anchor="end" class="tk">-10</text><text x="107" y="292.4" text-anchor="end" class="tk">-15</text><text x="107" y="380.7" text-anchor="end" class="tk">-20</text><text x="107" y="469.0" text-anchor="end" class="tk">-25</text>
<text x="124.5" y="508" text-anchor="middle" class="tk">3</text><text x="333.0" y="508" text-anchor="middle" class="tk">4</text><text x="541.5" y="508" text-anchor="middle" class="tk">5</text><text x="750.0" y="508" text-anchor="middle" class="tk">6</text><text x="958.5" y="508" text-anchor="middle" class="tk">7</text>
<text class="ttl" x="388.3" y="574.4" letter-spacing="1">Frequency <tspan letter-spacing="0">(GHz)</tspan></text>
<text class="ttl" transform="translate(31.5,363.5) rotate(-90) scale(1.02,1.08)" letter-spacing="1">TARC (dB)</text>
<line x1="737" y1="251.0" x2="795" y2="251.0" stroke="#ff0000" stroke-width="3"/>
<rect x="759.1" y="244.3" width="13.8" height="13.3" fill="#ff0000"/>
<text transform="translate(800.5,259.5) scale(1,1.08)" class="lg">at 0 <tspan dx="1" letter-spacing="0.8">deg.</tspan></text>
<line x1="737" y1="284.9" x2="795" y2="284.9" stroke="#00ffff" stroke-width="3"/>
<ellipse cx="766.0" cy="284.9" rx="7.2" ry="7.0" fill="#00ffff"/>
<text transform="translate(800.5,293.4) scale(1,1.08)" class="lg">at 30 <tspan dx="1" letter-spacing="0.8">deg.</tspan></text>
<line x1="737" y1="318.8" x2="795" y2="318.8" stroke="#00ff00" stroke-width="3"/>
<polygon points="766.0,310.4 773.5,324.4 758.5,324.4" fill="#00ff00"/>
<text transform="translate(800.5,327.3) scale(1,1.08)" class="lg">at 60 <tspan dx="1" letter-spacing="0.8">deg.</tspan></text>
<line x1="737" y1="352.7" x2="795" y2="352.7" stroke="#008080" stroke-width="3"/>
<polygon points="766.0,361.1 773.5,347.1 758.5,347.1" fill="#008080"/>
<text transform="translate(800.5,361.2) scale(1,1.08)" class="lg">at 90 <tspan dx="1" letter-spacing="0.8">deg.</tspan></text>
<line x1="737" y1="386.6" x2="795" y2="386.6" stroke="#ff80ff" stroke-width="3"/>
<polygon points="766.0,378.4 773.5,386.6 766.0,394.9 758.5,386.6" fill="#ff80ff"/>
<text transform="translate(800.5,395.1) scale(1,1.08)" class="lg">at 120 <tspan dx="1" letter-spacing="0.8">deg.</tspan></text>
<line x1="737" y1="420.5" x2="795" y2="420.5" stroke="#404040" stroke-width="3"/>
<polygon points="760.0,420.5 772.0,413.2 772.0,427.8" fill="#404040"/>
<text transform="translate(800.5,429.0) scale(1,1.08)" class="lg">at 180 <tspan dx="1" letter-spacing="0.8">deg.</tspan></text>
</svg>
</body></html>
